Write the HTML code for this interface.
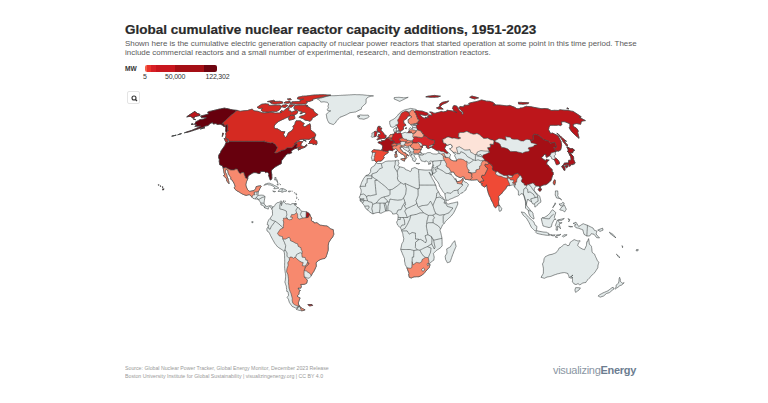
<!DOCTYPE html>
<html><head><meta charset="utf-8"><style>
html,body{margin:0;padding:0;background:#fff;width:768px;height:403px;overflow:hidden;position:relative;font-family:"Liberation Sans",sans-serif}
.t{position:absolute;white-space:nowrap}
#title{left:125px;top:22.2px;font-size:13.5px;font-weight:bold;color:#2a2a2a;-webkit-text-stroke:0.2px #2a2a2a}
#sub{left:125px;top:38.6px;font-size:7.95px;color:#5a5a5a;line-height:9.5px}
#mw{left:125px;top:65.3px;font-size:6.6px;font-weight:bold;color:#333}
.lg{top:72.6px;font-size:7px;color:#333;letter-spacing:-0.2px}
#bar{position:absolute;left:145px;top:65px;width:72px;height:6.5px;border-radius:2px;overflow:hidden;display:flex}
#bar div{height:100%}
#btn{position:absolute;left:127px;top:91px;width:13px;height:13px;border:1px solid #e4e4e4;border-radius:2px;box-sizing:border-box;background:#fff}
#src{left:125px;top:365.3px;font-size:5.9px;color:#999;line-height:7.6px;transform:scaleX(0.885);transform-origin:0 0}
#logo{left:553px;top:364.2px;font-size:11px;color:#8a96a3;letter-spacing:-0.3px}
#logo b{color:#6c7d90}
</style></head><body>
<div class="t" id="title">Global cumulative nuclear reactor capacity additions, 1951-2023</div>
<div class="t" id="sub">Shown here is the cumulative electric generation capacity of nuclear power reactors that started operation at some point in this time period. These<br>include commercial reactors and a small number of experimental, research, and demonstration reactors.</div>
<div class="t" id="mw">MW</div>
<div id="bar"><div style="width:2px;background:#f4604a"></div><div style="width:3.5px;background:#e8332a"></div><div style="width:5.5px;background:#d71f26"></div><div style="width:18.5px;background:#c8161e"></div><div style="width:29.5px;background:#a50f15"></div><div style="width:13px;background:#6e0510"></div></div>
<div class="t lg" style="left:143px">5</div>
<div class="t lg" style="left:165px">50,000</div>
<div class="t lg" style="left:205.5px">122,302</div>
<div id="btn"><svg width="11" height="11" viewBox="0 0 11 11" style="position:absolute;left:0.5px;top:1px"><circle cx="5" cy="5" r="2" fill="none" stroke="#333" stroke-width="1.1"/><line x1="6.5" y1="6.5" x2="8" y2="8" stroke="#333" stroke-width="1.2"/></svg></div>
<svg width="768" height="403" style="position:absolute;left:0;top:0"><path d="M251.9 222.7L251.8 221.6L253.2 221.8L252.8 222.7ZM163 190.2L162.6 188.9L163.3 188.9L164.1 188.9ZM162.5 187.4L162.2 186.8L163.1 187.1ZM160.3 186.3L160.2 185.8L160.9 186.3ZM276.5 188.6L275.2 188.7L273.8 188.7L274.7 187.4L273.8 186.7L273 186L271.7 185.5L270.4 185L269.4 184.9L268.5 184.8L267.5 184.3L266.5 184.6L265.5 184.8L264.7 185.1L263.9 185.4L265 184.2L266.4 183.7L267.8 183.3L268.7 183.2L269.5 183.2L270.5 183.6L271.5 184L272.5 184.3L273.5 184.9L274.5 185.5L275.7 186L276.9 186.6L277.9 187.4L278.9 188.1L277.7 188.3ZM158.6 185.3L158.3 184.8L159 184.8ZM237.1 110.4L237.9 110.6L238.7 110.9L239.4 111.1L240.2 111.3L241.5 111.1L242.8 110.9L244 110.8L245.1 110.7L246.3 110.6L247.5 110.5L249 110L250.6 109.6L252.2 109.1L252.6 109.5L253 109.9L253.5 110.3L253.9 110.8L254.8 110.9L255.6 111L256.4 111.1L257.2 111.2L258.1 111.3L258.8 111.6L259.6 111.9L260.4 112.1L261.1 112.4L261.9 112.7L262.9 112.8L263.9 112.9L264.8 113L265.9 112.8L267 112.7L268.1 112.6L269.2 112.4L270.3 112.3L271.1 112.4L271.9 112.5L272.8 112.6L273.6 112.7L274.5 112.9L275.4 113.1L276.3 113.1L277.3 113L278.2 113L279.2 113L280.5 112.7L281.8 112.4L280.9 112.2L280 112L281.5 110.6L282.1 110.8L282.6 111L283.2 111.3L284.8 109.9L286.4 108.6L288.4 107.4L288.8 107.8L289.1 108.3L288.9 109.4L288.6 110.5L289.4 110.7L290.1 110.9L290.8 111L291.1 111.7L291.3 112.4L292.9 111.7L294.5 111L296.1 110.2L296.7 110.6L297.3 110.9L297.9 111.3L297.6 112.3L297.2 113.4L295.7 114.3L294.1 115.2L293.1 115.1L292.2 114.9L291.2 114.8L290.2 115.5L291.3 115.6L292.3 115.6L293.3 115.6L294.4 115.7L294.6 116.6L294.8 117.5L295 118.4L294 118.9L293 119.4L291.7 119.7L290.4 120L289.1 120.3L288.8 119.3L288.5 118.4L289 117.2L289.6 116.1L288.8 116.7L287.2 117.4L285.6 118.1L284.2 118.8L282.8 119.4L281.5 120L280.2 120.7L278.8 121.3L277.4 122.4L275.9 123.5L275 124.8L274.1 126.1L274.3 127.3L274.6 128.5L275.5 128.6L276.4 128.7L277.4 128.8L278.2 129.3L279.1 129.8L280 130.4L280.9 131L281.7 131.6L282.8 131.6L283.8 131.7L284.9 131.7L284.2 133.1L283.5 134.5L283.9 135.3L284.2 136.1L284.8 136.7L285.5 137.3L287.1 135.8L287.7 134.2L288.4 132.7L290.1 131.7L291.8 130.7L292.7 129.4L293.6 128.1L293.3 127.2L292.9 126.4L293.9 125.3L294.9 124.3L295.1 123.2L295.4 122.1L296.3 120.7L297.3 120.8L298.4 120.8L299.5 120.8L300.6 120.9L301.2 121.4L301.9 121.9L302.6 122.4L303.5 122.9L304.3 123.4L303.6 124.6L302.8 125.8L303.5 126.1L304.2 126.5L304.9 126.8L306.3 125.9L307.6 125L308.8 124.4L310 123.7L310.3 124.9L310.6 126.1L310.5 127.3L310.6 128.4L310.6 129.6L311.2 130.2L311.8 130.8L312.5 131.4L313.4 132L314.4 132.7L315.1 133.7L315.7 134.7L315.5 136.2L314.2 137L313 137.7L311.7 138.2L310.3 138.8L308.9 139.4L307.7 139.3L306.5 139.3L305.2 139.2L304.1 139.3L303 139.3L301.9 139.4L300.8 139.4L299.3 140.2L297.7 141L295.9 142.6L294 144.2L295.7 143L297.2 142.2L298.8 141.5L299.8 141.5L300.8 141.5L301.9 141.6L302.9 141.6L302 142.6L301.2 143.7L301 144.7L300.8 145.8L301.7 146L302.6 146.3L303.5 146.6L304.8 146.6L305 146.5L305.2 147.2L304 147.6L302.7 148.1L301.5 148.5L299.9 149.3L298.4 150.1L298.1 148.6L299.4 147.9L300.7 147.2L299.6 147.3L298.5 147.4L297.2 148L295.9 148.4L294.6 148.8L293.5 149.4L292.4 149.9L291.1 151.5L291.8 152.8L290.6 153.2L289.5 153.7L288.6 153.7L287.6 153.8L286.7 154.4L285.8 154.9L285.3 156.2L283.8 157.5L283.1 158.7L282.3 159.8L281.4 160.8L281.4 162.2L281.3 163.6L279.8 164.4L278.6 165L277.4 165.7L276.4 166.3L275.5 166.8L274.1 167.8L272.9 169L271.6 170.1L271.3 171.6L271.5 173.1L271.8 174.5L271.8 176.2L271.9 177.8L271.7 178.9L270.8 180L270 179.8L269.8 178.9L269.5 178L269.1 176.8L268.6 175.7L269 174L268.7 173.5L268 172.8L267.3 172.1L266.4 172.3L265.5 172.6L264.9 172L264.3 171.4L263.2 171.4L262.2 171.4L261.3 171.6L260.5 171.7L260.3 172.6L260 173.5L259.1 173.5L258.2 173.5L257.3 173.1L256.3 172.7L255.1 172.6L253.9 172.6L252.3 173.2L251 174L249.6 174.9L248.4 175.7L247.8 177.1L247.8 178.7L247.2 180L246.6 181.4L246.3 182.5L246 183.7L245.8 184.8L246 185.8L246.3 186.8L246.9 188.3L247.6 189.7L248.6 190.6L249.7 191.4L250.9 191.2L252.1 190.9L253 190.8L254 190.7L254.8 189.7L255.6 188.7L255.9 187.7L256.2 186.6L257.5 186.3L258.8 186L259.8 185.9L260.8 185.8L261.2 186.6L260 188.1L259.6 189.2L259.3 190.2L258.5 190.9L258.4 192.5L258.2 193.5L258 194.5L257.7 195.3L259.1 195.3L260.2 195.2L261.3 195.1L262.3 195.2L263.4 195.3L264.2 195.9L265.1 196.6L264.8 197.8L264.6 199L264.4 200.4L264.2 201.8L264 203.1L264.7 204.8L265.8 205.7L266.8 206.6L268 206.2L269.1 205.8L270.1 205.8L271.1 205.7L271.9 206.3L272.7 206.9L274 206.7L274.8 205.4L275.6 204.1L276.6 203.1L277.5 202.6L278.4 202.5L279.2 202.3L280.2 201.5L281.2 200.8L281.9 201.7L280.8 202.8L281.2 203.8L281.3 204.7L281.4 205.6L281.7 204.7L282 203.8L281.4 203.1L282.8 202.8L283.6 201.2L284.3 202.3L285.1 203.1L285.9 203.9L286.8 203.9L287.8 203.8L289.2 204.2L290.6 204.6L292.1 203.6L293.1 203.6L294.1 203.6L295.1 203.6L294.2 204.8L295.6 205.4L296.3 206.3L297 207.2L298 207.6L299.1 208L299.6 209L300.2 210L301 210.6L301.9 211.3L303.2 211.4L304.5 211.5L305.4 211.6L306.3 211.8L307.5 212.4L308.6 213.1L309.7 214.1L310.1 215.1L310.4 216.2L311.1 217.1L311.8 218L311.5 219.1L311.3 220.3L311.8 221.1L312.9 221.6L314 222.1L314.3 223.1L315.6 222.9L316.9 222.7L318 223.6L319 224.4L320.1 225.2L321.4 225.3L322.7 225.5L324.1 225.8L325.6 225.9L327 226L328.5 227.1L329.6 228L330.7 228.9L331.9 229.3L333.2 229.6L333.4 231.2L333.6 232.7L333.8 234.3L333.2 235.6L332.7 237L331.8 238L330.9 239.1L329.9 240.7L328.8 242.3L328.5 243.8L328.2 245.3L328.2 246.6L328.2 247.9L328.2 249.1L328.1 250.4L327.7 251.7L327.3 253L326.9 254.3L326.5 255.6L326.1 256.9L324.8 258.5L323.9 258.6L323.1 258.7L322.2 258.9L321.3 259.2L320.1 259.7L318.8 260.3L317.9 261.1L316.9 262L316 262.8L316.1 263.9L316.2 265.1L316.3 266.2L315.6 267.6L315 269L314.3 270.4L313.6 271.8L312.9 272.7L312.3 273.6L311.6 274.9L311 276.2L310.1 277.2L309.2 278.2L308.3 278.2L307.5 278.1L306.5 277.7L305.6 277.3L304.3 277.2L305.3 278L306.3 278.8L307.3 280.4L307 281.8L306.7 283.2L305.5 283.8L304.3 284.3L303.1 284.4L301.9 284.4L300.6 284.5L301 285.4L301.3 286.3L301.1 287.2L300.9 288.1L299.9 288.1L298.9 288.1L298 288.1L298.6 289.1L299.2 290.2L300.4 290.5L299.7 291.1L299.1 291.8L299 293L298.9 294.2L298 295.1L297.1 296L298.2 297.1L299.1 297.5L300.1 297.9L299.6 299.1L299.2 300.2L298.8 301.4L298.3 302.8L298.5 303.9L298.7 305L299.8 306.2L299 306.4L298.2 306.6L297.4 306.7L297.4 308L296.4 308L295.5 308L294 307.2L293 306.8L292.1 306.4L291.2 305.1L290.3 303.8L289.4 302.5L288.9 300.9L288.4 299.3L287.8 298.4L287.1 297.4L287.8 296.4L288.6 295.3L288.3 293.7L288.1 292.1L287.7 291.5L287.1 291.9L286.8 291L286.6 290L286.8 289.7L286.6 289.4L286.4 287.7L286.3 286.1L285.7 284.7L285.3 283.3L284.8 281.9L285.1 281.2L285.3 280.2L285.4 279.1L285.5 277.8L285.6 276.4L285.7 275L285.4 273.4L285.1 271.8L284.9 270.1L284.7 268.5L284.6 266.9L284.6 265.5L284.6 264.1L284.7 262.8L284.7 261.2L284.7 259.7L284.6 258.3L284.6 256.9L284.5 255.5L284.5 254.1L284.3 252.7L284.1 251.3L283.2 250.7L282.4 250L281.2 249.2L280 248.5L278.8 247.7L277.7 246.9L276.7 245.8L275.8 244.6L274.9 243.5L274.1 242.1L273.4 240.8L272.6 239.5L271.9 238.1L271.2 236.8L270.5 235.5L270 234.4L269.5 233.3L268.9 232.2L268 231.6L267 230.9L266.9 229.8L266.8 228.8L267.5 227.7L268.2 226.7L268.7 225.2L268 224.9L267.2 224.7L267.4 223.7L267.5 222.7L268 221.5L268.5 220.3L269 219.5L270.3 218.2L271.2 216.8L272.2 215.4L272.5 214.7L272.5 213.3L272.4 211.8L272.4 210.3L271.8 209.3L271.4 208.4L271.1 207.5L269.7 206.6L268.5 207.7L268.2 209.2L267.5 208.8L266.7 208.5L265.7 208.2L264.7 207.9L264 206.7L263.3 205.6L262.1 205.2L260.9 204.8L260.8 203.1L259.9 201.6L258.9 200L258.5 199.4L257.5 199.3L256.5 199.1L255.4 199L254.2 198.7L253 198.4L252.1 197.4L251.3 196.4L250.5 195.4L249.2 194.6L247.7 195L246.2 195.4L244.9 195L243.5 194.5L242.6 194.1L241.6 193.6L240.7 193L239.8 192.4L238.9 191.8L237.8 191.3L236.8 190.7L235.9 190L235 189.2L234.2 187.8L235 186.8L235.1 186L234.5 184.6L234 183.2L233.1 181.7L232.3 180.2L231.6 179.8L230.8 179.3L230.8 178.4L230.8 177.5L230.1 176.5L229.4 175.5L228.8 174.4L228.2 173.2L228 171.8L227.8 170.4L226.9 169.9L225.9 169.3L225.4 170.6L225.4 171.5L225.5 172.4L226.1 173.5L226.7 174.5L226.9 175.8L227.2 177L228 178.6L228.2 179.6L228.4 180.6L228.8 181.6L228.9 182.6L229 183.7L228.3 182.9L227.4 181.7L226.6 180.6L226.6 179.6L226.6 178.6L225.9 178L225.1 177.5L224.3 176.5L223.5 175.5L224.8 174.9L224.4 173.8L224 172.7L223.8 171.5L223.6 170.3L223.4 169.1L223.1 168L223.1 167.7L222.6 166.7L222.2 165.7L221.3 165.4L220.5 165L219.7 164.7L219.5 163.6L219.4 162.4L219.2 161.3L219.3 160.3L219.3 159.3L218.9 158.4L218.6 157.4L218.7 156.2L218.8 155.1L219.7 153.8L220.5 152.5L221 150.9L222 149.6L222.9 148.3L223.8 147L224.7 145.8L225.2 144.6L225.6 143.4L226.1 142.2L227 142.5L227.9 142.7L229.2 141.3L228.9 140.8L228.5 139.9L228.2 139.1L227.3 138.8L226.3 138.4L225.4 138.1L225.7 137L226 135.8L225.8 134.8L225.7 133.8L225.9 133L226.2 132.4L225.9 131.7L225.6 131.1L225.7 130L225.8 128.8L225.7 127.7L225.6 126.5L224.7 126.5L223.8 126.5L223.3 126L222.7 125.5L222.2 125L221.6 124.8L220.9 124.5L220.3 124.3L219.3 124.3L218.3 124.4L217.3 124.4L216.6 124L215.9 123.5L214.5 123.8L213.1 124L212.9 123.2L212.7 122.5L211.4 123L210.2 123.5L209.1 124.5L208 125.5L206.7 125.8L205.3 126.1L203.2 127.3L201.8 127.7L200.5 128.1L199.1 128.5L197.6 129.1L196 129.6L194.4 130.1L192.9 130.6L191.4 131.1L190 131.5L188.7 131.9L187.3 132.2L185.8 132.5L184.4 132.8L186.1 132.2L187.9 131.6L189.6 131L191.4 130.5L193.2 129.7L195.1 128.9L196.9 128.1L198.9 127.2L200.8 126.2L200 126.2L199.2 126.1L198.1 126.2L197 126.2L195.9 126.3L194.8 126.4L195.8 125.5L196.9 124.6L196 124.5L195.2 124.4L194.4 124.3L195 123.5L195.6 122.6L195.6 121.9L198.5 120.4L200.1 119.6L201.3 119.4L202.4 119.3L203.6 119.1L206.5 117.7L205.5 117.6L204.5 117.5L203.6 117.6L202.6 117.6L201.7 117.7L201.4 117.4L201.2 117.1L201 116.6L200.8 116.1L202 115.8L203.2 115.4L204.5 115.1L205.9 114.7L207.3 114.3L208.7 114L208.4 113.5L208.1 113.1L207.9 112.6L207.6 112.2L209.4 111.4L210.6 111.2L211.8 110.9L213.1 110.6L214.3 110.3L216 109.9L217.6 109.5L219.2 109.1L220.5 108.9L221.8 108.6L223 108.4L224.3 108.1L225 108.2L225.8 108.4L226.5 108.5L227.3 108.6L228 108.7L228.7 108.9L229.4 109.1L230 109.3L230.7 109.5L231.5 109.6L232.3 109.8L233.1 109.9L233.9 110L234.7 110.1L235.5 110.2L236.3 110.3ZM225.6 141.5L225 140.4L224.5 139.4L224.1 138.4L224.8 138.6L225.6 138.8L226.5 139L227.4 139.2L227.6 140L227.9 140.8L227.6 142.4L226.9 142.1L226.2 141.8ZM176.2 135.2L174.9 135.5L173.7 135.8L172.7 136L171.7 136.2L173.1 135.8L174.6 135.5ZM223.6 133.4L222.9 135L222.3 136.6L222.4 135.4L222.5 134.3L222.6 133.1ZM179.8 134.1L181.5 133.6L179.6 134.2L177.7 134.8ZM203.6 127.5L204.3 127.6L205 127.8L203.5 128.2L202 128.6L200.4 129L202 128.2ZM191 124.3L192 124L193 123.7L193.3 124.4L192.5 124.4L191.8 124.3ZM193.9 119.4L193.6 119L193.3 118.7L194.1 119L194.8 119.3L195.5 119.6L194.7 119.5ZM192.2 117.7L191.7 117.2L191.3 116.7L190.9 116.2L189.5 116.4L188.2 116.6L186.8 116.8L188.8 115.4L190.8 114.1L192.8 112.8L194.9 111.4L195.3 111.9L195.7 112.3L196.2 112.7L196.7 113L197.2 113.4L197.8 113.6L198.4 113.8L199.1 114L199.7 114.2L199.8 114.9L199.9 115.5L198.7 115.7L197.6 115.9L196.4 116.2L195.3 116.4L193.8 117.7L193 117.7ZM267.9 112L267 111.9L266.1 111.9L265.2 111.8L264.3 111.8L263.4 111.7L262.7 111.4L262.1 111L261.4 110.6L261.4 109.9L261.5 109.3L262.6 108.1L261.7 108.2L260.8 108.3L260 108.4L259.1 108.4L258.6 108.2L258.1 107.9L257.6 107.6L257.1 107.3L258.6 106.3L260.2 105.2L261.8 104.2L262.9 104.1L264.1 104L265.2 103.8L266.1 103.9L266.9 104L267.8 104.1L268.7 104.2L268.8 104.9L268.9 105.7L270.2 105.4L271.2 105.4L272.1 105.4L273.1 105.4L274 105.3L275 105.3L275.9 105.3L276.8 105.3L277.8 105.3L278.6 105.2L279.3 105.2L280.1 105.1L280.5 105.7L280.9 106.3L281.3 106.8L280.7 107.9L280.1 108.9L279.4 109.9L277.8 110.8L276.2 111.6L275.3 111.5L274.5 111.4L273.6 111.4L272.8 111.3L271.5 111.5L270.3 111.7L269.1 111.8ZM283.3 107.2L282.6 107L281.9 106.8L281.2 106.6L282.1 105.4L283.4 105.1L284.7 104.9L285.9 104.6L286.5 105L287.2 105.3L287.8 105.7L286.4 106.6L285.1 107.5L284.2 107.4ZM294.5 104.9L293 106.1L291.4 107.2L290.4 107.2L289.5 107.1L288.6 107L289.1 105.9L289.7 104.8L290.7 104.8L291.7 104.8L292.6 104.8L293.6 104.9ZM308.8 107L309.4 107.4L309.9 107.8L310.5 108.3L311.1 108.7L311.8 109L312.5 109.3L313.2 109.5L313.5 110.3L313.8 111L314.3 111.7L314.9 112.3L315.4 113L316.2 113.4L317.1 113.8L317.5 114.2L317.9 114.7L316.7 115.4L315.6 116.2L314.4 116.9L313.2 117.5L312.1 118.1L312 119L311.8 119.8L309.9 121.3L309 121L308.1 120.6L307 120.4L306 120.3L304.9 120.1L304.2 119.6L303.6 119L302.7 118.6L301.9 118.3L301.1 118L300.4 117.7L299.7 117.5L299.1 117.2L299.9 116.4L301.1 116.1L302.2 115.7L303.4 115.4L304.5 115.1L305.9 113.7L305.3 113L304.7 112.3L303.7 112.4L302.7 112.6L301.7 112.7L301.6 111.3L300.7 111.2L299.7 111L298.8 110.9L298.3 110.4L297.9 109.9L297.1 109.8L296.2 109.7L295.4 109.6L294.6 109.5L294.2 108.7L293.9 107.9L294.4 106.7L294.9 105.5L296 105.4L297.1 105.3L298.2 105.2L299.3 105.1L300.2 105.2L301.2 105.2L302.2 105.2L303.1 105.2L304.1 105.3L305.4 104.9L306.2 105.1L307 105.4L307.8 105.7L306.9 105.9L305.9 106.2L306.3 106.3L307.1 106.5L307.9 106.8ZM305.8 103.8L304.8 103.9L303.8 103.9L302.8 103.9L301.8 104L300.8 104L299.8 104L298.7 104.1L297.7 104.1L296.9 104L296.1 104L295.2 103.9L294.4 103.8L293.6 103.8L292.7 103.7L292.6 103.5L291.6 103.8L290.9 103.6L290.2 103.3L292.2 102.4L291.9 101.8L292.9 101.8L293.8 101.7L294.7 101.7L295.7 101.6L296.6 101.6L297.6 101.5L298.5 101.5L299.5 101.4L300.3 101.5L299.9 101.4L300.3 100.2L301.5 99.8L302.7 99.5L303.9 99.1L303.5 98.8L303.1 99L302 99.1L301 99.3L299.9 99.4L299.3 99.2L298.6 99.1L298 98.9L297.4 98.8L297.6 98L297.9 97.3L299 97L300.2 96.8L301.3 96.5L302.4 96.2L303.2 96.2L303.9 96.2L304.7 96.1L305.4 96.1L306.2 96.1L306.8 95.9L307.8 95.8L308.8 95.7L309.8 95.6L310.8 95.4L311.8 95.3L312.8 95.2L313.8 95.1L314.8 95L315.7 95L316.6 94.9L317.5 94.9L318.4 94.9L319.3 94.8L320.2 94.8L321.1 94.8L322 94.8L322.9 94.7L323.8 94.7L324.5 94.8L325.3 94.8L326.1 94.9L326.8 94.9L327.6 95L328.4 95L329.1 95.1L329.9 95.1L330.7 95.2L329.6 95.4L328.6 95.6L327.5 95.8L326.5 96L325.4 96.3L324.4 96.6L323.4 96.8L322.3 97.1L321.3 97.3L320.3 97.5L319.3 97.7L318.3 97.9L317.3 98.1L316.1 98.4L314.9 98.7L313.7 99L312.5 99.3L312.7 99.7L313 100.2L311.8 100.6L310.6 101L309.4 101.4L308.6 101.5L307.8 101.5L306.9 101.6L306.1 101.6L306.5 102L307 102.3L307.4 102.6ZM273.5 100.3L274 100.6L274.6 100.9L275.1 101.2L273.7 101.6L274.7 101.5L275.7 101.5L276.7 101.4L277.7 101.4L278.7 101.4L279.7 101.3L280.3 101.4L281 101.6L281.7 101.7L282.4 101.8L282.6 102.4L282.9 103L281.9 103.2L280.8 103.5L279.7 103.6L278.6 103.7L277.5 103.8L276.3 104L275.2 104.1L274.3 104L273.5 103.9L272.6 103.8L271.8 103.7L271.3 103.3L270.8 103L270.3 102.6L271.8 102.1L273.2 101.7L272.3 101.9L271.3 102.2L270.6 102.1L269.8 101.9L269 101.8L268.2 101.7L267.5 101.6L268.7 101.3L269.9 101.1L271.1 100.8L272.3 100.6ZM285.7 101.8L286.8 101.7L287.8 101.6L288.9 101.5L290 101.4L290.2 102.1L290.4 102.7L289.1 103L287.8 103.3L287 103.3L286.2 103.2L285.4 103.1L284.6 103L283.9 103ZM291.3 99.6L290 99.8L288.8 100.1L288.3 99.7L287.9 99.4L287.4 99L288.4 98.9L289.4 98.7L290.4 98.5L290.7 98.9L291 99.3ZM298.6 306.6L299.7 306.6L301.1 307.6L302.5 308.6L303.8 309.2L305.1 309.8L304.5 310.1L303.9 310.4L302.8 310.6L301.6 310.8L300.3 310.5L299 310.3L297.6 309.8L296.1 309.2L297.1 308.7L298 308.1ZM307.9 304.5L308.9 304.5L310 304.5L311 304.5L312 304.5L312.6 305.5L311.5 305.6L310.5 305.8L309.4 306ZM295.1 204.6L295.1 203.6L295.1 203.5L296.4 203.5L296.4 204.6ZM295.4 201.3L295.8 201.2L295.7 201.5ZM285.5 201.3L285 201.3L284.9 200.8ZM283.6 200.8L283.5 200.5L283.9 200.8ZM298.6 199.9L298.5 199.4L298.9 199.7ZM296.5 198.5L296.7 198.1L296.8 198.7ZM296.8 197.6L296.5 196.9L297.1 197.2ZM296.5 195L295.8 194.5L296.7 194.1ZM295.8 193.5L295.8 193L296.1 193.3ZM294.8 192.8L294.5 193.2L294.4 192.5ZM274 192L272.7 191L273.7 191.2L274.6 191.4L275.6 191.5L274.8 191.8ZM288.5 191L289.6 191.1L290.7 191.2L289.9 191.8L289.2 191.8L288.4 191.7ZM292 191.4L291.7 191L292.3 191.2ZM280.5 191.5L279.3 191.5L278.2 191.5L278.2 191L279.5 189.8L280.8 188.6L281.8 188.6L282.9 188.6L284.1 189.1L285.3 189.6L286.1 190.1L286.9 190.7L286 191.4L285.2 191.4L284.4 191.4L283.3 191.8L282.2 192.3L281.3 191.9ZM278.2 185.1L277 184.7L277.8 183.5ZM280.2 184.5L279.6 183.8L280.6 184.7ZM276.7 179.4L277.1 180.6L277.5 181.6L277.9 182.7L277 181.9L276.8 180.7ZM274.9 177.3L276.2 177.8L275.8 179L275.4 180.2L274.6 179.9L274.8 178.6ZM306.7 144.5L306.9 145.8L306 146.1L305 146.5L304.9 146.1ZM317 143.5L316 145.1L315.2 143.8L314.1 144.2L313 144.6L312.5 143.5L311.5 143.5L310.5 143.5L309.5 143.5L308.5 143.5L310 142.1L309.2 141.9L310.5 140.5L311.8 139.1L313.3 138.1L314.8 137.2L314.6 138.5L314.4 139.9L315.5 140.3L316.6 140.8L316.9 141.8L317 142.6ZM305.3 140.8L304.2 140.4L303.1 140L304.1 140.4L305.2 140.8L306.2 141.1ZM300.7 112.7L301.5 113.1L302.2 113.5L301.1 113.6L300 113.7ZM327.7 110.6L327.3 109.3L328.5 107.9L328.2 107L327.9 106.2L328.3 105.1L328.7 104L328.2 103.4L327.8 102.9L327.3 102.3L326.5 102.2L325.6 102.1L324.7 101.9L323.9 101.8L322.9 101.9L321.8 102L320.8 102.1L320.4 101.4L319.9 100.8L319.5 100.2L318.9 99.9L318.4 99.6L317.9 99.3L317.3 99L318.4 98.7L319.5 98.4L320.5 98.1L321.6 97.9L322.8 97.5L324.1 97.1L325.3 96.8L326.5 96.4L327.6 96.2L328.7 95.9L329.8 95.7L330.6 95.7L331.5 95.7L332.4 95.7L333.3 95.7L334.1 95.7L335 95.7L335.9 95.6L336.8 95.6L337.8 95.5L338.7 95.5L339.6 95.4L340.5 95.4L341.4 95.3L342.3 95.3L343.2 95.2L344.1 95.2L345 95.1L345.9 95.1L346.8 95L347.7 95L348.6 94.9L349.5 94.9L350.4 94.8L351.3 94.8L352.2 94.7L353.1 94.7L353.9 94.6L354.8 94.6L355.6 94.6L356.5 94.7L357.3 94.7L358.2 94.7L359 94.7L359.9 94.7L360.8 94.8L361.6 94.8L362.5 94.8L363.3 94.9L364.1 95L364.9 95.1L365.8 95.2L366.6 95.3L367.5 95.4L368.3 95.4L369.2 95.5L370 95.6L370.9 95.7L371.7 95.7L372.6 95.8L373.5 95.9L372.6 96L371.7 96.1L370.8 96.2L369.8 96.6L368.8 96.9L367.9 97.3L367 98.1L366.1 99L366.1 99.9L366.1 100.8L366.1 102.1L366 103.3L364.8 104.3L363.7 105.3L362.7 106.3L361.7 107.2L361.5 108.2L361.3 109.3L360.2 109.7L359 110.2L357.9 110.8L356.7 111.4L355.5 112L354.4 112.1L353.3 112.3L352.2 112.4L351.1 112.6L350 112.7L348.8 113.4L347.5 114.1L346.2 114.8L345.2 115.2L344.1 115.7L343 116.1L342 116.5L341 116.9L340 117.2L339.1 118.4L337.9 119.5L336.7 120.6L336.1 121.7L335.5 122.8L334.4 123.7L333.3 124.6L332.4 124.3L331.6 124L330.8 123.7L329.9 123.4L329.1 123.1L328.4 121.8L327.7 120.6L327.3 119.3L326.8 118.1L326.7 117.1L326.6 116.1L326.4 115.2L326.3 114.2L327.4 113.1L328.6 112L329.6 111.4L330.7 110.9L329.7 110.8L328.7 110.7ZM447 253L446.9 251.6L446.8 250.2L446.7 248.9L447.9 248.2L449.2 247.5L450.4 246.8L451.1 245.6L451.8 244.5L452.4 243.3L453.6 242L454.7 240.7L455.1 242.1L455.4 243.6L455.8 245L456.1 246.4L455.5 247.7L455 248.9L454.4 250.3L453.8 251.7L453.3 253.2L452.7 254.6L452.2 256L451.7 257.5L451.2 258.9L450.7 260.4L450.2 261.8L448.8 262.3L447.4 262.8L446.5 261.1L445.6 259.5L445.4 257.9L445.2 256.2L446.1 254.6ZM552 235.2L553.1 235L554.1 234.9L555.2 234.8L554.4 235.8L553.3 235.8L552.3 235.8ZM551.4 235.6L550.9 234.7L551.9 234.7ZM535.5 232.2L536.9 230.7L537.9 231L539 231.2L540 231.4L541.1 231.6L542.1 231.8L543.1 232L544.2 232.1L545.3 232.2L546.3 232.2L547.6 232.9L549 233.5L548.8 234.3L549.6 234.6L550.5 234.8L549.7 235.5L548.8 234.4L548.5 235.5L547.3 235.3L546.1 235.2L544.9 235L543.7 234.8L542.3 234.6L540.9 234.3L539.4 234L538.3 233.7L537.2 233.4L536.3 232.8ZM531.5 227.6L530.7 226L529.9 224.4L529.1 222.7L528.3 221.3L527.4 219.8L526.6 218.3L525.5 217.3L524.3 216.3L523.2 215.2L522.3 213.6L521.3 211.9L522.4 212.2L523.5 212.4L524.5 212.6L525.9 214.2L527.3 215.8L528.7 217.3L530 218.5L531.3 219.6L532.6 220.8L533.8 221.9L534.4 223.4L534.9 224.9L535.9 225.6L536.9 226.3L536.8 227.7L536.6 229.2L536.5 230.6L535.5 230.6L534.6 230.6L533.6 229.6L532.6 228.6ZM438.8 192.5L439.6 194.1L440.3 195.6L441.1 195.8L442.3 197L443.4 198.2L444.3 199L445.2 199.9L446.1 200.8L445.9 202.1L446.5 203L447.1 203.9L447.8 204L448.6 204.1L450.1 203.6L451.2 203.3L452.4 203.1L453.6 202.8L454.7 202.6L455.7 202.3L456.7 202.1L457.6 201.8L457.7 203L457.8 204.1L457.3 205.2L456.8 206.4L456 208L455.3 209.7L454.6 211L453.9 212.4L453.2 213.6L452.1 214.9L451.1 216.2L450.2 217L449.4 217.7L448.4 218.6L447.5 219.5L446.4 220.6L445.3 221.7L444.7 222.7L444 223.7L443.2 224.5L442.4 225.2L441.8 226.5L441.3 227.7L440.6 228.9L439.9 230.1L440.3 231.2L440.6 232.2L440.9 233.2L441.1 234.2L441.4 235.5L441.7 236.9L442 238.3L442 239.9L442.1 241.5L442.1 242.9L442.1 244.3L442.2 245.6L441.1 247.2L440 248.1L438.9 248.9L437.7 249.6L436.5 250.4L435.5 251.4L434.5 252.4L433.4 253.5L433.6 254.4L433.8 255.4L434.2 257.1L434 258.6L433.8 260.2L432.4 261.1L431.1 262L429.7 263.5L430 264.9L429.6 266.3L429.1 267.7L428 268.8L427 269.9L425.8 271.2L424.7 272.6L423.5 273.8L422.3 275L421.2 275.6L420.1 276.1L419 276.7L417.7 276.7L416.5 276.7L415.3 276.8L414 276.8L412.6 277.4L411.2 278L410.2 277.6L409.2 277.2L409.1 276.5L408.9 275.6L408.7 274.7L409.1 273.4L408.6 272.2L408.1 270.9L407.5 269.4L406.9 267.8L406.1 266.2L405.2 264.6L405 263.4L404.8 262.3L404.5 261.1L404.5 259.9L404.5 258.6L404 257.5L403.6 256.4L403.1 255.3L402.4 253.7L401.8 252.1L401.2 250.7L400.7 249.3L400.9 248.2L401.2 247.1L401.4 245.9L401.6 244.8L401.9 243.7L402.5 242.7L403.2 241.7L403.5 240.2L403.8 238.7L403.4 237.1L403 235.5L402.9 234.4L402.7 233.4L402.2 232.1L401.7 230.9L401.4 229.9L401.1 228.9L399.9 227.3L398.8 226.2L397.7 225.2L397.1 223.6L396.6 222.1L397.6 220.4L397.8 219.3L398 218.2L398.1 217L398.1 215.8L398 214.6L397.1 214.1L396.3 213.6L395.4 213.7L394.5 213.9L393.6 214L392.7 214.1L392.4 213.1L391.5 212L390.6 211L389.8 210.8L388.9 210.6L387.8 210.8L386.8 210.9L385.7 211.1L384.7 211.6L383.7 212L382.3 212.7L381 213.3L379.6 212.9L378.2 212.4L377.2 212.6L376.1 212.8L375 213.1L374 213.5L372.9 213.9L372 213.4L371 212.9L369.7 211.9L368.4 210.8L367.6 210L366.8 209.4L366 208.8L365 207.2L364.3 205.6L363.4 204.4L362.5 203.3L361.6 201.7L360.8 201.4L360.1 201L360.1 200.1L360.2 199.1L360 198.4L359 197.1L359.6 196.8L360 195.9L360.5 195L360.7 193.8L361 192.7L361.2 191.5L361.1 190.4L360.9 189.2L360.4 188.2L359.9 187.1L360.4 185.7L361 184.3L361.3 183.4L361.6 182.4L362.3 181.1L363 179.8L363.7 178.4L364.8 177L366 175.5L367 175.2L368 174.9L369.4 173.7L370.1 172.6L370.7 171.4L370.5 169.8L370.9 168.9L371.2 168L372.4 166.8L373.6 166.2L374.7 165.5L375.4 163.9L376.1 162.6L377 163.1L377.9 163.6L378.9 163.5L380 163.4L381.3 163.7L382.2 163.3L383.2 162.8L384.3 162.1L385.4 161.5L386.3 161.3L387.2 161.2L388.1 161L389.2 161L390.3 161L391.4 161L392.5 160.9L393.5 160.9L394.5 160.8L395.5 160.6L396.4 160.4L397.3 160.2L398.1 160.3L398.8 160.5L398.2 161.5L398.6 162.4L399 163.4L398.4 164.6L397.8 165.7L398.8 166.3L399.8 166.8L400.9 167.1L402.1 167.3L403.4 167.7L404.8 168.2L405.4 169.5L406.8 170L408.2 170.4L409.2 171L410.3 171.6L411.2 170.9L411.4 169.8L411.7 168.6L412.7 168.3L413.8 167.9L414.9 167.5L416 168.1L417 168.6L417.9 169.1L418.7 169.5L419.8 169.6L420.9 169.7L421.9 169.8L423 169.9L424.2 170L425.3 170.1L426.4 170.1L427.5 170.1L428.6 170L429.9 170L431.2 170L431.8 168.6L432 167.5L432.3 166.6L432.5 165.7L432.7 164.8L432.9 163.9L432.6 163.1L432.7 162.2L432.8 161.3L432 161.3L430.6 161L429.4 161.9L428.5 162.3L427.5 161.7L426.6 161.1L425.5 160.9L425.2 161.9L424.2 161.6L423.3 161.3L422.1 161.1L421 160.6L420.7 159.2L419.8 158.4L419.8 156.9L418.9 156.6L418.9 155.8L419.4 155.1L420.5 155.1L421.5 155.1L422.5 155.1L423.6 154.5L422.5 154L423.4 153.9L424.3 153.8L425.6 153.8L426.6 153.2L427.5 152.7L428.4 152.6L429.3 152.6L430.2 152.5L431.1 153.1L432 153.7L432.8 153.8L433.6 154L434.6 154L435.6 154.1L436.5 154.1L437.7 153.7L438.9 153.2L438.8 152L437.7 150.9L436.7 150.4L435.8 149.9L434.8 149.3L433.7 148.6L433 148.2L432.1 147.8L431.3 147.4L432.2 146.1L433.4 145.3L434.1 144.3L432.8 144.5L432.1 144.7L431.4 145L430.3 145.3L429.3 145.6L428.8 146.4L429.6 147.2L430.3 147.1L431.1 147L429.9 147.7L429.2 148.2L428.4 148.6L427.4 148.3L427.2 147.4L425.9 147L426.6 146.5L427.2 145.9L426 145.6L424.8 145.3L424.1 145.3L423.4 145.3L422.5 146.4L422.4 147.4L421.5 148.3L421.2 149L421.1 150.1L420.5 150.6L420.1 151.7L420.9 152.5L422.2 153.7L421.1 154.1L419.8 154.6L418.7 154.8L418.3 154.4L417.3 154.3L416.3 154.3L415.4 154.6L414.4 154.8L414 155.4L414.6 156.9L415.2 157.4L416.2 158.7L415.9 159.2L416.3 159.6L415.3 160.2L415.1 161.6L414.3 161.5L413.3 161L412.4 159.3L413.1 158.6L412.1 158.2L411.7 157.2L410.9 156.4L409.9 155.1L409.7 153.7L409.6 152.7L408.6 151.9L407.7 151.5L407 150.9L406.2 150.4L405.5 150.1L404.6 149.6L403.8 149.1L403.3 148L402.6 147.2L402 147.8L401.6 147.5L401.7 146.6L400.8 146.8L399.9 147L400.2 147.8L400.4 149.2L401.6 149.9L402.1 150.9L402.6 151.8L403.9 152.5L404.6 152.6L405.3 152.7L405 153.3L406.4 154L407.1 154.3L407.8 154.7L408.6 155.6L408.4 156.1L407.6 155.5L406.8 154.9L406.1 155.8L406.9 157.4L406.1 158.4L405.5 159L405 158.8L405.1 157.5L404.9 156.7L404.6 155.8L403.8 155.3L402.9 154.5L402 154.1L401.2 153.8L400.1 152.9L398.7 151.9L397.7 151L397.4 150L396.7 149.1L395.6 148.6L394.4 149.5L393.5 149.8L392.6 150.7L391.8 150.6L391 150.4L390.1 150.3L389.2 150.1L388 151.4L388.2 152.7L386.9 153.5L386.1 154.1L385.2 154.6L384.4 155.6L383.5 156.7L384.3 157.9L383.3 158.7L382.7 159.7L381.8 160.4L381 161.1L380 161.1L379 161.1L378.1 161.1L377.2 161.7L376.4 162.3L375.5 161.5L374.6 160.3L373.2 160.6L371.9 160.6L372 159L371.3 157.9L371.7 156.8L372 155.8L372.3 154.8L372.5 153.9L372.3 152.4L371.8 151.1L373 150.3L373.7 149.6L374.7 149.7L375.6 149.9L376.6 150L377.8 150.1L379 150.2L380.2 150.4L381.1 150.3L382 150.1L382.2 149.2L382.4 148.3L382.6 146.7L382.5 145.8L381.8 145.1L381.2 144.3L380.4 143.8L379.5 143.4L378.4 143L378 142.2L378.8 141.9L379.6 141.6L380.5 141.7L381.5 141.8L382 141.8L381.6 140.2L382.5 140.7L383.3 140.6L384.1 140.5L385.4 139.9L386 139.1L386.3 138.2L387.2 138L388.2 137.5L389.2 136.6L389.7 135.8L389.8 135.1L390.7 134.5L391.6 134.5L392.4 134.4L393.1 134.1L394.1 134.1L394.6 133.6L394.8 132.8L394.4 131.9L393.7 131L393.7 130L393.7 129.1L394.2 128.7L394.9 128.3L395.7 127.9L396.5 127.7L396.3 129.1L397 129.7L396.3 130L396 131.1L396.8 131.1L396.7 131.9L395.9 131.7L395.9 131.5L395.7 131.9L396.4 132.8L397.2 133.4L398 133.3L398.7 133.1L399.5 132.9L400.3 132.7L401.4 133.6L402.2 133.4L402.9 133.1L404 132.7L405.1 132.2L405.9 132.5L406.6 132.8L407.7 132.8L408.1 132L408.7 131.4L409.3 130.8L409 129.6L409.5 128.2L410.6 127.6L411.8 128.8L412.6 128.8L412.6 127.8L412.6 126.8L411.3 125.5L412 125.3L412.7 125.1L413.7 125L414.7 124.9L415.5 125L416.4 125L417.5 124.4L418.2 124.4L418.9 124.4L418.2 124.2L417.4 124L417 123.2L416 123.4L415 123.5L413.9 123.8L412.8 124.1L411.7 124.3L410.6 124.6L409.5 123.6L408.4 122.8L408.3 121.7L408.2 120.6L408.2 119.7L409.1 119L410 118.4L410.5 117.8L411 117.2L411.9 116.9L411.1 116.4L410.3 115.8L409.2 115.9L408.1 116.1L407.3 117.2L406.5 118.7L405.6 119.3L404.7 119.8L404.1 120.3L403.5 120.7L403.7 121.8L403.9 122.8L403.7 123.4L404.5 123.7L405.3 124L405.9 125.3L405.2 125.7L404.4 126.1L403.4 126.4L403.4 127.4L403.5 128.4L403.4 129.4L402.6 130L402 130.2L401.3 130.4L401.1 131.3L400.3 131.3L399.5 131.3L399.5 131L399.2 130.3L398.9 129.6L398.4 128.7L398 127.8L397.5 126.7L396.9 125.6L396.3 124.9L396.3 124.4L395.9 125.8L395.1 126.2L394.4 126.5L393.4 127.2L392.3 127.3L391.4 126.9L390.5 126.5L390.5 125.9L390.2 125.1L389.9 124.3L389.7 123.7L389.7 122.9L389.7 122.1L389.8 121L390.9 120.6L391.7 120.1L392.6 119.7L393.7 119.1L394.5 118.5L395.6 117.7L396.1 117.1L396.8 116.3L397.6 115.5L398.5 114.1L399.4 113.7L399.9 112.7L400.9 111.9L401.6 111.4L402.3 111L403 110.7L403.7 110.3L404.2 110.1L404.7 109.9L405.5 109.7L406.2 109.5L406.9 109.3L407.7 109.2L408.4 109L409.1 108.8L409.7 108.6L410.4 108.4L411.3 108.5L412.2 108.6L413 108.8L413.8 109L414.6 109.1L415.4 109.3L416.1 109.5L416 110.2L416.8 110.4L417.7 110.6L418.5 110.8L419.4 110.9L420.4 111L421.3 111.1L422.3 111.2L423.3 111.5L424.3 111.9L425.3 112.3L426.4 112.6L427.6 113L428.4 114.4L427.8 114.7L427.3 115.1L426.2 115.2L425.2 115.4L424 115.2L422.9 115L421.8 114.8L420.9 114.7L420.1 114.7L419.4 114.3L418.7 113.9L419.5 114.7L420.4 115.5L421.2 116.3L422 117L422.9 117.6L423.8 118.1L425 118.2L426.1 118.4L425.2 117.2L426.3 117.4L427.5 117.5L428.6 117.6L427.6 116.2L428.5 115.6L429.4 114.9L430.2 115.1L431.1 115.2L432 115.5L431.8 114.1L430.7 113L429.7 111.9L430.7 112L431.7 112.2L432.7 112.4L433 113.1L434.1 113.2L435.2 113.3L436.1 113L437.1 112.7L438 112.5L439 112.2L439.9 112L440.6 111.7L441.3 111.4L442.2 111.7L443.1 112L444.1 111.8L445 111.6L446 111.4L447 111.3L446.9 110.2L447.8 110.3L448.8 110.5L449.7 110.6L450.9 110.8L452 110.9L453.3 111.3L454.6 111.7L455.9 112.1L457 112.7L455.9 112L454.7 111.3L453.6 110.6L453.7 109.9L452.5 108.6L452.8 107.7L453.1 106.8L453.4 105.9L454.1 105.7L454.7 105.5L455.8 105.9L456.9 106.2L457.6 107.4L458.3 108.6L458.7 109.6L459.1 110.6L460.4 111.4L461.8 112.3L461.9 113.4L462.1 114.5L462.7 114.2L463.3 113.8L463.1 112.9L463 112L461.2 110.6L460 109.3L458.9 107.9L459.4 107.2L459.9 106.6L461 106.7L462.1 106.8L463.1 106.8L464.1 106.7L464.1 105.9L464.1 105.1L464.9 105.2L465.6 105.2L466.4 105.3L467.2 105.2L467.9 105.1L468.7 105L469.5 104.9L469.1 104.2L468.7 103.5L469.4 103.2L470.1 103L470.8 102.7L471.6 102.5L472.4 102.4L473.2 102.2L474 102.1L474.8 101.9L475.6 101.8L476.3 101.6L477.1 101.4L477.8 101.2L478.5 101L479.2 100.8L479.7 100.6L480.2 100.4L480.7 100.2L481.2 100L482.1 100.1L483 100.3L483.9 100.5L485.1 100.8L486.3 101.2L487.3 101.2L488.3 101.3L489.3 101.3L490.5 101.6L491.7 102L493 102.3L494.2 103.5L495.4 104.6L494.6 104.8L493.7 104.9L492.9 105L493.9 105L494.9 105L495.9 105L496.8 105L497.8 105L498.8 105.1L499.7 105.1L500.7 105.2L501.6 105.3L502.7 105.4L503.7 105.5L504.8 105.7L505.8 105.8L506.9 105.9L507.6 105.8L508.3 105.7L509 105.5L509.7 105.4L511.3 106L512.8 106.6L514.4 107.2L516.7 108.6L517.8 108.7L518.9 108.7L519.6 108.4L520.2 108L521.1 108L522 107.9L522.9 107.8L523.4 107.5L523.9 107.2L524.3 107L525.1 106.8L525.8 106.5L526.4 106.3L527.6 106.5L528.8 106.6L530 106.7L531.2 106.8L532.6 107.1L534 107.4L535.4 107.6L536.8 107.9L538.2 108.2L539.6 108.4L541 108.7L542 108.7L543 108.7L543.9 108.6L544.9 108.6L546 108.7L547 108.8L548.1 108.9L549.7 109.7L551.3 110.5L552.1 110.5L553 110.4L553.9 110.4L554.7 110.3L555.8 110.4L556.9 110.4L558.1 110.5L558.8 110.3L559.4 110L560.1 109.8L561.4 109.9L562.6 110.1L563.9 110.2L565 110.3L566.1 110.3L567.2 110.3L568.7 110.6L570.2 110.9L571.6 111.2L573.1 111.4L575.2 112.8L577.2 114.1L579.2 115.4L581.2 116.8L580.9 117.2L580.6 117.5L579.3 117.4L581.3 118.4L583.4 119.5L585.4 120.6L584.6 120.7L583.8 120.8L583 120.9L582.4 121.1L581.8 121.4L581.1 121.6L581.1 122.2L581 122.8L580.8 123.5L580.6 124.3L579.3 124L578 123.8L576.8 123.5L575.8 123.7L574.8 123.8L574.3 124.1L573.8 124.4L572.8 124.6L573.3 125.7L573.7 126.8L576.1 127.9L577 129L577.9 130L578.2 131.4L577.9 132L577.7 132.7L578 133.8L578.3 135L578.5 135.9L578.8 136.9L579 138.3L577.5 137.1L575.9 135.8L574.5 134.4L573 133L571.6 131.6L570.7 130.2L569.8 128.8L569.3 127.6L569.6 127.1L569.9 126.5L569.9 125.6L569.9 124.6L569.8 123.7L567.8 122.9L565.8 122.1L564.1 121.6L563.1 121.7L562.1 121.8L561.1 121.9L561.5 123.2L561.9 124.6L561.3 125.1L560.7 125.6L559.6 125.3L558.6 125L557.8 125.1L557.1 125.2L556.3 125.3L555.3 125.3L554.2 125.3L553.2 125.2L552.1 125.2L551.1 125.2L550.1 125.3L549.7 125.9L549.4 126.6L549 127.3L548.9 128.1L548.7 128.9L548.5 129.7L549.2 130.9L549.9 132.2L550.5 133.4L551.6 133.3L552.7 133.1L554.4 134L556.2 134.8L558.3 136.2L558.9 137.4L559.5 138.6L560 139.7L560.5 140.5L561 141.4L561.2 142.7L561.4 144L561.6 145.3L561.4 146.5L561.2 147.7L560.9 148.9L560.5 150.1L559.7 150.5L559 150.8L558.3 151.2L557.4 151L556.6 150.7L556.2 151.4L555.8 152L555 152.8L555.7 154.5L555 155.1L554.3 155.8L554.3 157.1L556.4 158.5L558.2 160.2L558.8 161.2L559.4 162.3L559.5 163.7L558.7 164.1L557.8 164.6L557.1 164.6L556.4 164.7L555.9 163.5L555.4 162.3L555 161.1L554.5 159.9L553.1 159.3L551.9 159L551.5 157.8L551.1 156.6L549.4 155.9L548.7 156.2L548 156.4L547.3 157L546.7 157.5L545.9 156.2L546 154.6L545.1 154.5L544.3 154.5L543.8 155.2L543.2 155.9L542.7 156.5L542.3 157.1L541.4 157.4L542.4 158.7L543.9 159.5L545.2 160.5L545.8 159.9L546.4 159.3L547.4 159.8L548.4 159.9L549.3 160L548.7 160.5L548.1 161L547.5 161.6L547 162.2L546.8 163.3L546.7 164.4L548.2 165.2L549.2 166.5L550.1 167.8L552 169.3L552.4 170.4L551.4 171.1L553.1 172.2L553.2 173.5L553.2 174.7L552.5 175.5L552 177.1L551.6 178.6L551.2 179.8L550.7 180.9L550.1 181.1L549.3 182L548.5 182.9L547.7 183.5L547 184L546.1 184.4L545.3 184.8L544.3 184.8L543.3 185.1L542.3 185.5L541.3 186L540.3 186.5L540.2 187.9L539.7 186.9L539.1 186L538.3 186L537.5 186L536.7 186L535.9 186.5L535.1 187.1L534.3 188.7L534.3 189.6L534.2 190.5L534.9 191.5L535.6 192.5L536.5 193.3L537.4 194.1L538.4 194.9L539.6 196.3L540 197.4L540.3 198.6L540.6 199.8L540.9 201L540.7 202.3L539.9 202.8L539.1 203.3L537.8 204.2L537.2 205.4L536.5 206.1L535.7 206.7L534.8 207L534.8 206L534.9 204.9L534.1 204.1L532.6 203.8L531.6 202.1L530.7 201.2L529.7 200.8L528.7 200.3L527.9 199L527.2 200.7L526.8 202.3L526.5 203.9L526.6 205L526.8 206.1L528.3 207.4L529.1 208.6L529.9 209.8L531.3 211L532.2 212.1L533 213.3L533.1 214.9L533.5 216.2L533.9 217.5L534 218.9L533.1 218.8L532.3 218.2L531.5 217.5L530.1 216.2L529.5 215L528.9 213.7L528.6 212.3L528.4 211.4L528.3 210.5L527.4 209.7L526.5 208.8L525.5 208.2L525.5 207L525.5 205.9L525.5 204.8L525.5 203.1L525.4 201.5L525.1 200.3L524.8 199.2L524.5 198.1L524.1 196.8L523.6 195.4L523.2 194.1L522.1 193.9L521.1 193.6L520.4 194.5L519.6 195.3L518.4 195L518.4 193.6L518.4 192.2L518.3 190.9L516.7 189.2L515.7 188.2L514.9 187.2L514.1 186.1L513.6 184.6L512.7 184.9L511.9 185.1L510.8 185.4L509.8 185.6L508.4 185.6L507 186L506.4 187.4L505.7 188.7L504.9 189.6L504.1 190.4L503.3 191.3L502.6 192.2L502 193.1L501.3 194L500.5 194.6L499.6 195.3L498.6 196.3L498.7 197.4L498.9 198.5L499 199.7L498.7 200.7L498.5 201.7L498.6 203L498.7 204.3L497.6 205.9L496.5 206.7L495.6 207.9L494.2 206.6L493.9 205.7L493.6 204.8L493.2 203.8L492.8 202.7L492 201.4L491.2 200L490.8 198.7L490.3 197.4L489.4 195.8L488.9 194.5L488.4 193.3L488 191.7L487.5 190.1L487.3 188.9L487.1 187.8L486.9 186.6L486.7 185.7L486.5 184.8L485.9 186.3L484.5 187.1L483.5 186.5L482.4 185.8L481.4 184.7L482.1 184.2L482.7 183.7L481.3 183.8L480.5 182.5L479 182L478.1 180.6L477.3 179.6L476 179.8L474.7 179.9L473.6 180L472.6 180L471.5 180.1L470.3 179.9L469.1 179.8L467.7 179.6L466.4 179.4L465.1 179.3L464.6 178.1L464.1 177L462.7 176.7L461.5 177.2L460.3 177.6L458.8 177.1L457.3 176.3L455.8 175.5L455.2 174.6L454.6 173.8L454.1 172.9L453.5 171.9L452.4 172L451.2 172.1L450.6 173.1L451.2 174.2L451.8 175.3L453.2 176.8L454.1 178L454.7 179.1L455.4 180.2L455.5 179.3L455.7 178.4L456.1 179.3L456.5 180.2L456.4 181.4L457.9 181.6L459.2 181.3L460.5 181.1L461.6 179.8L462.5 178.9L462.9 178L463.1 179.3L463.3 180.6L464.1 181.3L465 182L465.7 182.3L466.5 182.5L467.5 183.4L468.4 184.3L468 185.6L467.5 186.8L466.5 187.8L466.2 188.9L465.9 190.1L465.2 190.5L464.5 190.9L463.7 191.7L463 192.5L462 192.9L460.9 193.3L459.7 194.5L458.5 195.6L457.5 196.1L456.4 196.5L455.3 197L454.2 197.4L453.5 197.8L452.7 198.2L451.6 198.6L450.5 199L449.5 199.4L448.5 200.2L447.3 200.3L446.2 200.3L445.9 199.3L445.5 198.2L445.4 196.9L445.1 195.8L444.9 194.6L444.6 193.5L443.8 192.6L443 191.7L442.3 190.5L441.5 189.2L440.5 187.6L439.4 186L439.1 184.3L438.3 183L437.6 181.7L436.2 180.2L435.1 178.6L434.4 177.4L433.6 176.2L432.5 175.2L432.5 174L432.6 172.9L432.2 174.1L431.8 175.3L430.6 174.5L429.9 173.3L429.1 172.2L429.8 173.6L430.5 175L431.2 176.5L431.8 177.5L432.3 178.6L433 179.8L433.6 180.9L434.3 182L434.9 183.4L435.4 184.7L436 186L436.4 187.5L436.8 189.1L437.5 190.2L438.1 191.4ZM447 151.7L448.6 152.8L449.7 153.9L450.9 154.9L449.9 155.8L449.8 157L449.7 158.2L450.6 159.8L451.4 160.2L452.5 160.6L453.6 161L454.7 161L455.8 161L456.9 161L456.6 160.2L456.1 158.8L455.5 157.4L454.5 155.8L455.5 154.1L454.6 153.7L453.7 153.3L453 151.7L452.2 151.1L451.3 150.6L450.5 149.7L449.6 148.8L450.6 148.5L451.5 147.8L452.4 147.2L452.2 146.2L451.9 145.3L451.1 144.8L450.3 144.3L449.2 144.6L448.1 145L447.1 145.3L446.3 145.7L445.6 146.1L445.1 147.3L444.6 148.5L445.2 149.3L446.2 150.9ZM554.3 217.3L555 218.4L555.8 219.5L555 219.5L554.2 219.5L553.5 220.8L552.8 222.2L552.1 223.6L551.7 225.2L551.3 226.8L550.2 227.2L549.1 227.6L547.9 227.3L546.7 227L545.5 226.7L544.3 226.3L543.1 226L542.7 224.4L542.2 222.7L541.9 221.4L541.6 220L541.3 218.6L542.2 217.8L543.2 217.7L544.2 217.5L545.6 216.7L547 215.9L548.4 214.6L549.8 213.3L550.5 212.3L551.1 211.3L552.5 209.7L553.6 210.6L554.7 211.6L555.8 212.6L555.3 214.2L554.8 215.8ZM499.4 205.1L500.2 206.3L501.1 207.6L501.9 208.8L501.4 209.9L501 211L500.2 211.1L499.4 211.3L498.9 209.7L498.9 208.4L498.9 207.2L498.9 206.1L498.8 205.1ZM553.8 206L553.5 206.8L553.1 207.7L552.6 207.4ZM555.2 202.8L555.6 203.9L554.7 205L553.8 206L554.5 204.4ZM540.4 188.3L541.5 188.9L541 190.5L539.7 191.4L538.2 189.7L538.8 188.4L539.6 188.3ZM415.9 163.4L417.2 163.4L418.5 163.4L419.7 163.4L418.7 163.9L417.7 163.7L416.6 163.6ZM430.3 164.1L429.1 164.1L428 164.2L428.7 163.6L429.8 163.2L430.9 162.8ZM400.7 159.2L401.4 158.9L402.1 158.7L403.1 158.6L404 158.6L405 158.5L404.7 159.9L404.4 161.2L403.2 160.5L401.9 159.9ZM395.2 157.4L395 155.8L394.9 154.1L395.8 154L396.7 153.8L396.9 155.4L397.1 156.9L396.2 157.1ZM395.3 152.7L395.8 151.8L396.2 150.9L396.5 151.1L396.3 152.3L396.1 153.5ZM371.3 136.6L371.8 135.6L372 134.7L371.9 133.1L372.8 132.8L373.7 132.5L374 131.7L375.1 131.3L375.8 131.4L376.5 131.6L377.1 132.4L376.7 133.6L376.5 134.5L376.4 135.4L376.2 136.2L375 136.6L373.7 136.9L372.8 137.1L371.9 137.4ZM378.2 135.3L378.4 134.5L379.3 134.5L380.3 134.4L380.4 133.4L379.9 132.7L379.8 132L378.8 132.1L377.8 132.1L378.1 130.8L377.1 131.4L377.2 130.5L377.2 129.6L377.5 128.1L377.8 127.2L378.2 126.4L379.1 126.4L380 126.3L380.4 126.6L379.7 127.3L379 128.1L379.9 127.8L380.9 127.9L381.9 128.1L381.6 128.6L380.9 129.9L380.4 130.4L381.6 130.7L382.3 131.9L383.1 132.6L383.9 133.3L384.1 134.1L384.4 135.2L385.2 135.1L386.2 135.6L386.1 136.6L385 137.2L385.8 137.5L385.7 137.9L385 138.2L384.3 138.5L383.3 138.5L382.4 138.5L381.7 138.7L380.9 138.9L379.9 139L378.9 139.2L378.2 139.5L377.5 139.8L376.9 139.6L377.6 138.9L378.3 138.1L378.8 137.8L379.5 137.7L380.3 137.7L380 137.4L379 137.2L378.2 137L377.5 136.7L378.1 136.4L378.8 136.1ZM397.1 130.8L398.1 130.6L399.1 130.4L398.7 131.9L397.5 131.6ZM406.1 129L405.4 128.4L406.2 127.5ZM367.4 118L366.3 118.4L365.1 118.8L363.9 119.3L363 119.1L362.1 119L361.2 118.8L360.4 118.8L359.6 118.7L358.6 117.9L357.7 117.1L358.8 116.7L360 116.2L359.1 116.2L358.2 116.1L357.3 116.1L358.3 115.7L359.3 115.3L360.2 114.9L361.3 115L362.4 115.1L363.4 115.2L364.5 115.2L365.4 115.2L366.4 115.2L367.3 115.1L368.2 115.1L368.7 115.9L369.2 116.7L368.3 117.3ZM439.8 106.5L439.8 106.6L441.5 107.8L443.2 109.1L442.3 109.1L441.3 109.1L440.4 109L439.5 109L438.5 109L437.5 108.4L436.5 107.9L437.1 107.6L437.8 107.4L438.5 107.1L439.2 106.8ZM448.7 100.9L448.2 101.4L447.8 101.9L447.4 102.3L446.7 102.6L446 102.9L445.3 103.2L444.6 103.5L443.9 103.8L443.2 104.1L442.5 104.4L441.9 105L441.3 105.6L440.6 106.2L439.8 106.5L439.8 105.2L439.8 104L440.5 103.6L441.2 103.1L441.9 102.7L442.6 102.3L443.3 102.1L444.1 102L444.9 101.8L445.6 101.6L446.4 101.5L447.2 101.3L447.9 101.1ZM394.1 99L394.2 98.3L394.3 97.5L395.2 97.5L396 97.4L396.8 97.4L397.6 97.4L398.4 97.3L399.2 97.3L400.2 97.4L401.1 97.5L402 97.6L403 97.7L403.9 97.9L404.8 97.7L405.6 97.6L406.5 97.5L407.4 97.4L408.2 97.3L407.4 97.7L406.7 98L405.9 98.4L405.1 98.8L404.3 99.2L403.5 99.6L402.7 100L402 100.3L401.2 100.7L400.4 101.1L399.7 101.4L398.8 101L397.9 100.6L397.1 100.2L396.1 99.8L395.1 99.4ZM469.7 97.3L470.1 97L470.6 96.8L471 96.5L471.5 96.3L471.9 96L473.2 96.4L474.5 96.7L475.8 97.1L477.2 97.5L478.5 97.9L477.9 98L477.2 98.2L476.6 98.4L475.9 98.6L475.3 98.8L474.6 99L472.9 98.4L471.3 97.9ZM428.1 96.2L428.9 96.1L429.7 96L430.5 95.9L431.3 95.8L432.1 95.7L432.9 95.6L433.7 95.5L434.5 95.4L435.5 95.5L436.4 95.7L437.4 95.8L438.4 95.9L439.4 96.1L440.4 96.2L439.8 96.4L439 96.6L438.3 96.9L437.6 97.1L436.8 97.1L435.9 97.1L435 97.2L434.1 97.2L433.3 97.2L432.4 97.2L431.5 97.3L430.6 97.3L429.7 97.2L428.7 97.1L427.7 97L426.8 96.9L425.8 96.8L426.6 96.6L427.3 96.4ZM599.4 294.8L601.2 293.9L603 292.9L604.7 292.2L606.3 291.5L607.9 290.8L609.2 289.8L610.4 288.9L612 287.7L613.2 287.3L613.5 288.2L613.8 289.2L612.1 290.3L610.8 291.5L609.5 292.6L607.9 293.1L606.3 293.6L605 294.8L603.6 296L602 296.5L600.4 297.1L599.6 296.8L598.9 296.4L598.1 296.1ZM580.4 287.9L579.7 289L579 290L577.7 290.9L576.5 291.8L575.5 292.3L575.2 291.1L574.9 290L575.2 289L575.5 288.1L575.7 287.6L576.9 287.7L578 287.7L579.2 287.8ZM617.9 287.3L616.6 288.1L615.3 289L614.7 288.5L616.2 287.3L616.1 286.3L616 285.3L617.3 284.2L618.5 283.2L618.8 281.7L619 280.3L619.1 278.8L619.6 277.3L620 278.5L620.4 279.6L620.1 281.2L620.6 281.6L621 282L621.7 282.6L622.4 283.2L623.3 282.9L624.2 282.7L623 283.8L621.7 285L619.9 285.6ZM595.9 257.4L596.6 258.8L597.2 260.3L598 261.3L598.8 262.3L598.5 263.5L598.2 264.7L597.9 265.9L597.9 266.9L597.8 267.8L596.9 269.2L596 270.6L595.5 271.5L594.9 272.4L593.6 273.6L592.3 274.9L590.8 276.4L590 277.4L589.1 278.5L588 279.6L586.8 280.7L586.3 281.6L585.8 282.5L584.3 282.7L582.8 283L581.2 284L579.6 285L578.9 284.2L578.2 283.5L577.1 284L576 284.6L575 284.2L573.9 283.8L573.2 282.8L572.4 281.9L572.5 280.7L572.5 279.6L572.5 278.3L572.5 277L571 278.6L570.9 277L571.9 276L573 275L571.1 276.4L569.2 277.8L569 276.8L568.8 275.8L568.2 274.7L568 273.6L566.9 273.2L565.8 272.9L564.6 272.6L563.2 272.7L561.8 272.9L560.3 273.2L558.8 273.6L557.3 273.9L555.7 274.5L554.1 275L552.9 275.5L551.8 276L550.6 276.4L549.5 276.6L548.3 276.8L547.1 277L545.8 277.6L544.4 278.3L543.3 278L542.2 277.6L541 277.3L541.8 276L542.6 274.7L543.3 273.4L543.4 271.8L543.4 270.1L543.4 269.1L543.4 268.2L543.1 266.7L542.8 265.3L542.5 263.9L543.1 262.9L543.7 261.8L543.9 260.2L544.1 258.7L544.7 257.7L545.3 256.7L546.5 256.1L547.7 255.5L549 254.9L550 254.7L551 254.5L552.1 254.3L553.3 253.8L554.5 253.4L555.7 253L556.8 251.7L557.8 250.5L558.6 249.2L559.3 247.9L560.1 247.6L561 247.2L562.2 246L563.5 244.8L564.6 244.4L565.7 244L566.4 244.8L567.1 245.6L568.1 245.5L569.1 245.4L569.7 243.9L570.2 242.3L571.5 241.4L572.8 240.5L574.2 239.6L575.4 240.1L576.6 240.5L577.9 241L578.9 240.9L579.9 240.7L580.3 241.2L579.4 242L578.5 242.8L578.1 244.1L577.7 245.4L578.6 246.4L579.5 247.4L580.8 248.1L582.1 248.9L583.3 249.3L584.5 249.7L585.1 248.3L585.7 247L586.4 245.6L586.5 244.3L586.7 243L586.8 241.7L587.4 241.7L588 240.1L588.6 238.6L588.8 239.9L589 241.3L589.2 242.6L589.3 244L590.4 245.2L591.5 246.4L591.6 247.6L591.8 248.7L591.9 250L592 251.3L592.4 252.6L593.6 253.5L594.8 254.4L595.1 255.6L595.5 256.5ZM619 257.5L618.1 256.4L617.3 255.3L616.4 254.1L617.6 255.2L618.7 256.3L619.9 257.4ZM636.5 249.5L637.3 249.5L638.2 249.4L638 250.8L637.1 250.8L636.1 250.8ZM622.8 246.9L622.5 247.7L622.3 246.7L622.1 245.6ZM555.7 237.1L555.1 236.6L556.3 237L557.6 237.3L556.7 237.2ZM562.3 236.3L563.8 234.8L564.9 234.8L566 234.8L567.1 234.8L566 235.5L564.8 236.2L563.7 237ZM615.1 237.1L616 237.8L614.7 237L613.3 236.1L612.2 235.2L611.1 234.3L610 233.4L609.4 232.2L610.5 232.9L611.7 233.5L612.8 234.2L614 235.6ZM556.3 235L557.5 234.8L558.6 234.7L559.7 234.5L560.9 234.3L559.5 235.5L558 235.6L556.6 235.6ZM596 234L597.2 235.3L598.3 236.6L599.5 237.9L598.1 237.8L596.6 237.6L595.4 236L594.1 234.3L592.7 234L591.3 233.7L590.5 234.8L589.6 236L588.2 236L586.8 236L585.4 235.2L584 234.3L583.6 232.8L583.2 231.3L582.8 229.8L581.4 229.3L580 228.8L578.7 228.3L577.2 228L575.8 227.6L575.1 226.7L574.4 225.7L575.3 225.2L576.2 224.7L575.2 224.3L574.1 223.8L573.1 223.4L574.5 222.8L576 222.2L576.9 223.7L577.8 225.1L578.7 226.5L580.2 225.6L581.7 224.6L583.2 223.7L584.6 224.3L586 224.8L587.4 225.3L588.9 226L590.3 226.7L591.7 227.4L593.1 228.1L593.7 229.2L594.4 230.3L595.7 230.7L596.9 231.2L596.5 232.6ZM597.7 230.1L598.9 229.6L600.1 229.1L601.3 228.6L602.5 228.1L602.8 229.1L603.1 230.1L601.6 230.7L600.1 231.4L598.9 230.7ZM572.7 226.7L571.7 226.8L570.8 227L569.7 226.7L568.6 226.3L570 226.4L571.3 226.5ZM559.4 222.7L560.7 222.7L562.1 222.7L561.1 223.2L560.1 223.6L559 224L559.6 225.6L560.1 227.2L560.6 228.8L559.6 227.8L558.7 226.8L557.7 225.8L557.6 227.3L557.6 228.8L557.5 230.3L556.1 230.1L556.2 228.5L556.4 226.8L555.4 225.5L555.9 224L556.4 222.6L556.9 221.1L557.5 220L558.8 219.7L560.2 219.4L561.6 219.1L562.9 218.8L564.3 218.5L562.9 219.5L561.5 220.4L560.3 220.4L559.1 220.3L557.9 220.3L558.7 221.5ZM568 218.6L568.9 219.1L569.8 219.5L569.2 220.7L568.6 221.9L569.3 220.3ZM561.7 207L563 206.1L564.4 205.1L565 206.4L565.6 207.8L566.3 209.2L565.5 210.6L564.7 211.9L563.7 211.2L562.6 210.5L561.2 210.2L559.8 209.8L559.7 209.7L560.7 208.4ZM561.4 203.9L562.7 202.3L564.2 203.1L563.6 204.8L562.4 205.4L561.1 206.1L559.9 205.2L559.2 203.9L560.3 203.9ZM560.1 198.5L561.7 199.9L560.7 199.2L559.7 198.5ZM557.7 190.9L557.8 192.5L558 194.1L557.6 195.3L558.4 196.8L559.3 198.2L559.7 198.5L558.8 198.4L557.9 198.2L556.5 197.9L555.9 196.4L555.2 195L555.3 193.6L555.4 192.2L555.4 190.9L556.6 190.9ZM554.5 179.8L555.2 180.1L555.3 181.4L555.3 182.7L554.9 183.9L554.5 185.1L553.4 183.5L553.3 182.2L553.9 181ZM562.9 165.7L564.7 166.7L564.9 167.7L565 168.8L564.9 170.4L563.7 170L563.3 168.9L562.8 167.8L562.2 167.5L561.8 166.4ZM567.9 166.8L567.2 167.2L566.6 167.7L565.3 166.8L565.7 165.5L566.7 165.4L567.8 165.2L568.2 165.9ZM571.1 159.2L570.8 157.7L570.5 156.2L569.5 154.8L569.6 153.8L570.2 153.7L570.8 153.5L571.8 154.9L573.4 156.4L573.6 157.5L573.8 158.5L573.2 158.6L573.7 159.6L574.1 160.6L574.6 161.7L575.1 162.8L574.7 163.4L574.3 164.1L573 163.6L573.2 164.6L572 164.6L570.7 164.6L570.8 165L570.4 165.7L569.9 166.4L568.4 165L568.3 164.6L566.8 164.4L566.1 164.6L565.4 164.9L564.7 165L563.7 165.5L562.8 165.5L563.5 164.5L564.1 163.4L564.6 163.1L565.9 163L567.3 162.9L568.4 163.1L568.5 162L568.6 161L568.7 160.3L569.7 160.3L570.7 160.3ZM572.8 148.8L574.5 150.3L573.8 150.6L573.1 150.9L572.9 151.8L572.7 152.7L571.8 152.7L570.9 152.8L570.1 152.8L569.4 153.1L568.8 153.3L568.5 152L567.5 151.5L568.2 150.6L568.2 149.6L567.7 148.6L567.2 147.7L567.1 146.9L568.8 147.8L570.4 148.8L571.6 148.8ZM566.2 143.7L568 145.3L567.3 145.7L566.6 146.1L565.5 144.6L564.4 143.2L563.2 141.8L562.5 140.6L561.7 139.3L560.9 138.1L559.9 136.8L558.9 135.5L557.9 134.3L556.9 133L558.5 134.4L560.1 135.8L561.3 137L562.5 138.1L564.5 139.7L566.5 141.3L565.5 141.1L564.4 141L565.3 142.3ZM568.9 108.9L567.9 108.7L566.9 108.6L567 108.2L567.1 107.8ZM528.2 103.6L527.4 103.7L526.6 103.8L525.8 103.9L525 104L524.2 104.1L523.4 104.2L522.4 104.2L521.5 104.1L520.5 104.1L519.5 104L518.6 104L518.6 103.4L518.5 102.9L518.4 102.3L519.5 102.4L520.5 102.4L521.5 102.4L522.5 102.5L523.6 102.5L524.6 102.5L525.6 102.6L526.6 102.6L527.7 102.7L528.7 102.7L528.5 103.1Z" fill="#e3eaea" stroke="#404545" stroke-width="0.6" stroke-linejoin="round"/><path d="M381.6 163.7L381.5 164.7L381.9 166.3L382.4 167.8L381.2 168.2L380.0 168.6L378.9 169.5L378.0 170.8L377.1 172.1L375.8 172.6L374.5 173.1L373.2 173.5L371.9 174.0L371.9 175.3L371.8 176.5L371.8 176.5M371.9 175.8L370.6 175.8L369.3 175.8L368.1 175.8L366.8 175.8L365.6 175.8L365.6 175.8M371.8 176.5L371.8 177.5L371.8 178.6L370.7 178.6L369.5 178.6L368.3 178.6L367.2 178.6L367.2 180.0L367.1 181.3L367.1 182.7L366.3 183.3L365.5 183.8L365.6 185.1L365.6 186.3L364.5 186.3L363.3 186.3L362.2 186.3L361.0 186.3L359.9 186.3L359.9 186.3M371.8 176.5L373.2 177.4L374.5 178.4L375.9 179.3L377.3 180.2L376.1 180.3L374.9 180.4L375.0 181.9L375.1 183.5L375.3 185.0L375.4 186.5L375.6 188.0L375.7 189.6L375.9 191.1L376.0 192.6L376.2 194.1L376.4 194.5L375.3 194.7L374.1 195.0L372.9 195.2L371.7 195.5L370.6 195.8L369.1 195.7L367.7 195.6L366.6 197.2L366.1 195.8L364.9 194.9L363.6 194.0L362.6 194.2L361.5 194.4L360.5 194.6L360.5 194.6M377.3 180.2L378.7 181.3L380.1 182.4L381.5 183.5L382.9 184.6L384.3 185.7L385.7 186.8L387.1 188.3L388.5 189.9L389.3 189.8L390.0 189.8L391.3 189.5L392.5 189.2L393.7 188.4L395.0 187.5L396.2 186.7L397.4 185.8L398.6 184.8L399.8 183.7L400.9 182.7L399.5 181.6L398.1 180.6L397.7 179.2L397.3 177.8L397.8 177.0L397.7 175.3L397.5 173.7L397.3 172.1L397.2 171.7L397.6 170.6L398.1 169.5L398.9 168.2L399.8 166.9L399.8 166.9M397.2 171.7L396.2 170.2L395.2 168.7L394.3 167.2L394.7 165.9L395.2 164.6L395.2 163.4L395.2 162.3L395.6 160.7L395.6 160.7M400.9 182.7L402.3 183.5L403.8 184.3L405.2 183.5L406.6 184.1L408.0 184.8L409.4 185.4L410.9 186.1L412.3 186.7L413.7 187.3L415.2 188.0L416.6 188.6L418.1 189.2L418.0 188.4L419.4 188.4L419.4 186.8L419.3 185.1L419.3 183.5L419.2 181.9L419.1 180.2L419.0 178.6L418.9 177.0L418.9 175.3L418.8 173.7L418.6 172.1L418.7 170.8L418.7 169.5L418.7 169.5M419.3 185.1L420.6 185.1L421.9 185.1L423.1 185.1L424.4 185.1L425.7 185.1L427.0 185.1L428.2 185.1L429.5 185.1L430.9 185.1L432.2 185.1L433.5 185.1L434.8 185.1L436.1 185.1L436.1 185.1M418.1 189.2L418.1 190.8L418.1 192.3L418.1 193.9L418.1 195.4L417.7 196.6L417.2 197.8L416.8 199.0L416.0 200.5L416.3 201.8L416.7 203.1L416.9 203.3L415.9 204.1L414.9 204.9L413.8 205.4L412.6 205.9L411.5 206.4L410.2 207.0L408.9 207.6L407.6 208.2L406.3 208.8L405.5 210.0L404.7 211.1L405.4 212.7L406.1 214.3L406.7 215.9L407.4 217.5L408.5 216.8L409.7 216.1L410.8 215.4L412.2 215.1L413.6 214.9L414.9 214.6L416.3 214.4L417.5 213.9L418.8 213.4L420.0 212.9L421.2 212.9L422.3 212.8L423.5 212.8L422.3 211.3L421.2 209.8L420.0 208.7L418.9 207.6L417.8 206.6L417.3 204.9L416.9 203.3L416.9 203.3M405.2 183.5L405.4 184.9L405.7 186.2L406.0 187.6L406.3 188.6L406.1 189.9L406.0 191.3L405.8 192.6L405.7 194.0L404.9 195.4L404.2 196.8L403.5 198.2L404.3 199.9L404.6 201.1L405.0 202.3L405.3 203.5L405.7 204.8L404.9 205.2L404.1 205.6L405.2 207.2L406.3 208.8L406.3 208.8M390.0 189.8L390.0 191.3L390.0 192.8L390.0 194.3L389.1 195.6L388.0 195.9L386.8 196.2L385.6 196.5L384.4 196.8L384.3 197.6L385.7 199.0L387.2 200.5L387.2 202.0L388.2 202.0L389.2 202.0L389.6 200.5L390.0 199.0L391.3 199.3L392.5 199.5L393.7 199.7L395.1 199.9L396.4 200.0L397.8 200.2L399.0 200.0L400.3 199.9L401.6 199.7L402.5 199.0L403.5 198.2L403.5 198.2M384.4 196.8L383.3 197.1L382.2 197.5L381.1 197.9L380.4 198.4L379.6 198.9L378.5 200.2L377.4 201.6L376.2 203.0L375.0 203.5L373.9 203.9L372.7 204.4L372.4 203.5L372.1 202.5L371.0 202.2L369.9 201.9L368.8 201.7L367.7 200.8L367.3 199.6L366.9 198.4L366.6 197.2L366.6 197.2M367.7 200.8L366.6 200.7L365.5 200.6L364.4 200.5L362.9 200.6L361.5 200.7L360.1 200.8L360.1 200.8M359.9 198.9L361.4 198.9L362.8 199.0L364.2 199.0L362.9 199.2L361.6 199.4L360.2 199.5L360.2 199.5M372.7 204.4L372.4 205.8L372.1 207.3L371.8 208.7L372.1 210.0L372.5 211.3L372.8 212.7L373.2 214.0L373.2 214.0M365.0 206.2L366.2 206.1L367.4 206.0L368.6 205.9L369.2 207.2L368.3 208.5L367.4 209.8L367.4 209.8M362.5 203.3L363.4 201.9L364.4 200.5L364.4 200.5M379.4 212.8L379.6 211.2L379.8 209.7L380.0 208.2L380.0 206.9L380.0 205.7L380.0 204.4L380.0 203.1L381.3 203.1L382.7 203.1L384.0 203.1L385.3 203.1L386.2 202.6L387.2 202.0L387.2 202.0M376.2 203.0L377.5 203.0L378.7 203.1L380.0 203.1L380.0 203.1M385.7 211.1L385.4 209.9L385.2 208.7L384.9 207.5L384.6 206.1L384.3 204.6L384.0 203.1L384.0 203.1M386.3 211.0L386.3 209.4L386.3 207.9L386.3 206.4L385.8 204.8L385.3 203.1L385.3 203.1M387.9 210.6L387.9 209.2L387.9 207.8L387.9 206.4L388.3 204.9L388.7 203.5L389.2 202.0L389.2 202.0M396.4 213.4L397.0 212.3L397.5 211.1L398.1 210.0L399.6 209.8L401.0 209.7L401.6 208.4L402.1 207.0L402.7 205.7L403.4 204.6L404.2 203.5L405.0 202.3L405.0 202.3M398.1 217.3L399.2 217.4L400.3 217.5L401.7 217.5L403.2 217.5L404.6 217.5L406.0 217.5L407.4 217.5L407.4 217.5M398.1 219.5L399.2 219.5L400.3 219.5L400.3 218.5L400.3 217.5L400.3 217.5M400.4 227.6L401.2 226.3L402.0 225.0L403.5 225.0L404.9 224.4L404.7 222.8L404.5 221.2L404.2 219.6L403.7 218.6L403.2 217.5L403.2 217.5M418.4 207.0L419.6 206.6L420.9 206.1L422.1 205.6L423.3 205.5L424.5 205.4L425.7 205.2L426.8 205.1L427.8 204.9L428.7 203.7L429.6 202.4L430.5 201.2L431.3 202.6L432.1 204.1L432.9 205.6L433.4 207.2L433.9 208.8L434.4 210.5L435.1 212.0L435.8 213.6L435.8 213.6M423.5 212.8L424.7 213.4L426.0 214.1L427.2 214.7L428.4 215.4L429.5 215.3L430.7 215.3L431.8 215.3L432.9 215.2L434.3 214.4L435.8 213.6L435.8 213.6M432.9 205.6L433.4 204.3L433.9 203.1L434.4 201.8L435.0 200.5L435.6 199.1L436.2 197.7L436.4 196.3L436.6 194.8L436.7 193.3L437.8 192.5L438.9 191.7L438.9 191.7M436.2 197.7L437.4 197.5L438.6 197.3L439.8 197.1L440.8 197.7L441.9 198.4L443.0 199.0L443.9 199.9L444.8 200.7L444.4 201.9L444.0 203.1L444.8 203.1L445.6 203.1L446.1 202.3L446.1 202.3M445.6 203.1L446.4 204.8L447.3 206.4L448.7 206.8L450.1 207.2L451.5 207.6L452.9 208.0L451.6 209.7L450.2 211.3L448.9 212.9L447.8 213.3L446.6 213.7L445.5 214.2L444.4 214.6L443.2 214.7L442.0 214.9L440.8 215.1L439.5 215.2L438.3 214.7L437.0 214.1L435.8 213.6L435.8 213.6M444.4 214.6L443.8 215.5L443.2 216.5L443.2 218.0L443.2 219.5L443.2 221.1L443.2 222.6L444.0 223.7L444.0 223.7M440.5 228.8L439.5 227.4L438.4 226.0L437.1 225.2L435.7 224.4L434.4 223.6L433.1 222.7L433.1 221.1L433.1 219.5L434.5 217.8L433.7 216.5L432.9 215.2L432.9 215.2M428.4 215.4L428.0 216.8L427.7 218.2L427.3 219.7L426.9 221.1L426.8 222.2L426.7 223.4L426.5 224.7L426.3 226.0L426.5 227.2L426.7 228.5L427.0 230.0L427.3 231.6L427.6 233.1L427.9 234.7L429.0 235.3L430.2 235.9L431.3 236.5L432.1 237.7L432.9 238.9L433.6 240.1L434.2 240.1L435.5 239.8L436.8 239.5L438.1 239.2L439.4 238.9L440.7 238.6L442.0 238.3L442.0 238.3M433.1 222.7L431.9 222.7L430.8 222.7L429.6 222.7L428.5 222.7L427.6 223.1L426.7 223.4L426.7 223.4M401.7 230.9L403.1 230.9L404.4 230.9L405.7 230.9L407.1 230.9L408.2 232.5L409.3 234.2L410.7 233.4L412.1 232.5L413.2 232.7L414.3 232.9L415.4 233.0L415.4 234.5L415.5 236.1L415.5 237.6L415.6 239.1L417.0 239.1L418.5 239.1L418.4 239.9L417.0 241.1L415.5 242.3L415.5 243.7L415.5 245.0L415.4 246.3L415.4 247.6L416.4 248.7L417.3 249.9L417.3 249.9M418.4 239.9L419.5 239.6L420.6 239.4L421.8 240.1L423.0 240.8L424.1 241.5L425.5 243.0L426.0 241.9L426.5 240.7L426.0 239.1L425.5 237.4L425.0 235.8L426.4 235.2L427.9 234.7L427.9 234.7M401.7 229.8L402.8 229.3L403.8 228.9L404.9 228.5L405.7 227.1L406.6 225.7L407.4 224.4L408.2 222.7L408.9 221.1L409.7 219.5L410.1 218.1L410.5 216.7L410.8 215.4L410.8 215.4M400.7 249.3L401.9 249.4L403.1 249.5L404.2 249.5L405.4 249.5L406.7 249.5L407.9 249.5L409.1 249.5L410.3 249.5L411.5 249.9L412.7 250.2L413.9 250.5L415.0 250.3L416.2 250.1L417.3 249.9L418.6 250.0L419.9 250.2L419.9 250.2M412.1 261.6L412.2 260.1L412.2 258.6L412.3 257.1L413.7 257.1L413.7 255.4L413.8 253.8L413.8 252.1L413.9 250.5L413.9 250.5M419.9 250.2L420.7 251.8L421.6 253.5L422.6 254.8L423.6 256.2L424.6 256.8L425.5 257.4L425.5 257.4M419.9 250.2L421.2 249.5L422.6 248.8L423.9 248.1L425.1 247.6L426.2 247.1L427.4 246.6L428.6 247.1L429.8 247.6L431.1 248.1L430.9 249.4L430.7 250.8L430.6 252.1L430.0 253.5L429.4 254.9L428.8 256.3L428.2 257.7L428.2 257.7M427.4 246.6L428.8 245.7L430.2 244.8L431.7 244.0L431.8 242.3L431.9 240.7L432.0 239.1L431.6 237.8L431.3 236.5L431.3 236.5M433.6 240.1L433.9 241.6L434.2 243.2L434.5 244.8L434.8 246.0L435.1 247.2L434.7 248.1L434.3 249.0L433.6 247.7L433.0 246.4L432.3 245.2L431.7 244.0L431.7 244.0M432.7 162.4L433.4 161.0L434.4 161.0L435.3 161.0L436.5 160.9L437.7 160.8L438.8 160.7L440.0 160.6L441.2 160.5L442.3 160.4L443.3 160.4L444.4 160.3L444.4 160.3M438.9 153.3L440.2 153.7L441.5 154.0L441.5 154.0M418.5 153.6L418.4 154.5L418.4 154.5M441.2 160.5L440.9 161.9L440.5 163.4L440.2 164.9L439.2 165.4L438.2 166.0L437.1 166.5L437.5 167.5L437.9 168.5L439.3 169.1L440.6 169.8L442.0 170.4L443.4 171.4L444.7 172.4L446.1 173.4L447.4 173.5L448.6 173.5L449.5 174.0L450.4 174.5L451.4 174.5L451.4 174.5M448.6 173.5L449.6 172.8L450.5 172.1L450.5 172.1M432.9 164.6L433.8 165.2L433.0 166.7L434.6 168.3L435.9 167.4L437.1 166.5L437.1 166.5M432.8 166.8L432.9 168.2L433.0 169.6L432.8 171.3L432.6 172.9L432.6 172.9M431.2 170.0L431.8 171.4L432.4 172.9L432.4 172.9M437.9 168.5L437.0 168.9L436.0 169.2L435.0 169.6L436.6 171.3L435.3 172.3L434.0 173.4L432.6 173.1L432.6 173.1M445.0 194.3L445.9 193.5L446.7 192.7L448.1 192.9L449.5 193.1L451.0 193.3L452.3 192.0L453.6 190.7L455.0 190.5L456.4 190.3L457.9 190.1L459.1 188.8L460.3 187.6L461.5 186.4L462.7 185.1L462.7 185.1M457.9 190.1L458.0 191.4L458.2 192.7L458.4 194.0L458.4 194.0M455.7 180.9L456.2 181.4L456.2 181.4M443.5 153.7L444.4 153.2L445.2 152.7L445.2 152.7M458.0 153.7L459.0 153.7L460.0 153.7L460.4 152.7L460.8 151.7L461.9 152.1L463.0 152.5L464.1 153.2L465.3 153.8L466.3 155.2L467.4 156.6L468.9 157.4L470.4 158.2L472.0 159.1L473.6 160.0L473.6 160.0M466.7 161.3L467.8 162.4L468.9 163.4L470.1 162.7L471.3 161.9L472.5 161.0L473.6 160.0L474.5 160.2L475.4 160.5L476.4 160.3L477.3 160.0L478.2 159.8L479.4 160.3L480.5 160.8L481.6 160.6L482.7 160.4L483.8 160.2L484.9 160.0L484.9 160.0M475.4 160.5L475.4 159.2L475.4 157.9L475.4 156.6L475.5 155.4L475.6 154.1L476.9 154.7L478.3 155.3L479.5 154.9L480.7 154.5L481.5 155.4L482.4 156.4L482.4 156.4M476.5 155.8L477.6 156.0L478.8 156.2L479.9 156.4L481.1 156.7L482.3 156.9L482.3 156.9M514.7 187.3L514.8 186.2L514.8 185.1L514.8 185.1M525.7 204.8L526.3 203.1L525.8 201.5L525.3 199.9L524.9 198.2L524.5 196.6L523.9 195.3L523.3 194.0L523.5 192.7L523.6 191.4L523.7 190.2L523.9 188.9L524.9 188.3L525.8 187.8L526.4 186.6L527.0 185.5L527.0 185.5M525.8 187.8L526.7 188.5L527.6 189.2L527.8 190.9L527.9 192.5L529.0 192.2L530.0 191.8L531.1 192.6L532.2 193.4L533.3 194.1L534.1 195.4L534.9 196.6L534.9 197.7L534.9 197.7M528.3 184.5L529.7 185.5L531.0 186.5L531.7 187.7L532.4 188.9L533.4 190.2L534.5 191.5L535.5 192.8L536.5 194.2L537.5 195.6L537.7 197.1L537.7 197.1M534.9 197.7L533.5 198.1L532.1 198.5L530.7 198.9L531.2 200.5L531.6 202.1L531.6 202.1M534.9 197.7L536.3 197.4L537.7 197.1L537.9 198.4L538.0 199.8L538.1 201.2L537.4 201.6L536.6 202.0L535.7 202.6L534.8 203.3L534.1 204.1L534.1 204.1M528.2 210.5L529.5 210.8L530.3 210.9L531.1 211.0L531.1 211.0M542.2 217.8L543.3 218.1L544.5 218.4L545.6 218.6L546.9 218.7L548.1 218.8L549.4 218.8L550.2 217.6L550.9 216.4L552.3 215.3L553.7 214.2L553.7 214.2M587.4 225.3L587.4 226.9L587.3 228.4L587.2 229.9L587.1 231.4L587.0 232.9L586.9 234.5L586.8 236.0L586.8 236.0M281.9 201.7L280.4 203.0L280.1 204.3L279.8 205.6L279.8 206.7L279.8 207.9L279.8 209.0L280.9 209.2L282.0 209.4L283.1 209.7L284.1 210.1L285.2 210.5L286.3 211.0L286.5 212.3L286.7 213.6L286.9 214.9L286.2 216.5L286.8 217.8L287.4 219.1L287.4 219.1M270.0 218.6L271.1 219.5L272.3 220.4L273.3 220.7L274.3 221.0L275.3 221.3L276.5 222.2L277.8 223.1L278.9 224.0L280.1 225.0L281.1 226.0L282.2 227.0L283.2 228.0L283.2 228.0M268.2 226.7L268.4 227.6L268.7 228.5L270.1 229.3L270.6 228.0L271.1 226.8L272.1 225.4L273.2 224.0L274.2 222.7L275.3 221.3L275.3 221.3M297.7 207.2L296.8 208.7L295.9 210.2L296.2 211.4L296.5 212.6L296.5 212.6M301.6 211.5L301.0 213.0L300.4 214.6L301.1 215.7L301.8 216.9L302.5 218.0L302.5 218.0M282.8 239.1L283.6 240.7L284.4 242.3L285.0 244.0L285.7 245.6L285.5 247.0L285.3 248.3L285.0 249.7L284.1 251.2L284.1 251.2M285.0 249.7L286.1 251.3L287.1 253.0L287.0 254.6L287.0 256.2L288.1 257.3L289.2 258.4L289.2 258.4M295.6 257.5L296.0 256.1L296.5 254.6L297.7 253.9L299.0 253.3L300.2 252.6L301.1 253.1L302.0 253.6L302.0 253.6M272.7 206.9L272.3 208.1L271.8 209.3L271.8 209.3M257.1 192.0L256.9 193.6L256.7 195.1L256.7 195.1M258.1 195.4L257.2 196.5L256.4 197.6L255.0 198.7L255.0 198.7M256.4 197.6L257.3 198.4L258.3 199.2L258.3 199.2M258.4 199.9L259.6 199.0L260.9 198.2L262.4 197.4L263.8 197.0L265.1 196.6L265.1 196.6M261.0 203.0L262.4 203.1L263.8 203.3L263.8 203.3M264.7 207.9L265.0 206.7L265.3 205.6L265.3 205.6M282.3 188.9L282.1 190.3L282.0 191.7L282.0 191.7M404.3 147.4L405.3 147.4L406.4 147.5L407.5 147.6L408.6 147.7L409.1 147.4L408.2 146.2L408.2 146.2M408.6 147.8L409.4 149.3L409.1 150.1L408.3 151.7L408.3 151.7M409.1 150.1L409.8 150.7L410.6 151.2L411.6 152.2L412.5 152.1L413.4 152.0L413.4 152.0M409.6 152.7L410.4 151.7L410.4 151.7M410.4 151.7L410.8 152.8L411.1 154.0L411.7 154.9L410.6 156.2L410.6 156.2M411.7 154.9L411.7 154.3L413.0 153.9L414.3 153.6L414.3 153.6M412.6 127.5L413.3 127.5L414.0 127.5L415.1 127.7L416.3 127.9L416.3 127.9" fill="none" stroke="#404545" stroke-width="0.6" stroke-linejoin="round"/><path d="M264 141.3L264.3 140.7L264.2 141.8L265.3 141.8L266.4 141.9L267.5 142.2L268.6 142.5L269.8 142.7L270.3 143L271.4 142.7L272.5 142.4L273.2 143L274 143.5L274.8 144.1L275.6 144.6L275.9 145.3L276.6 146.2L277.1 146.7L277.6 147.2L277.1 148.4L276.5 149.7L276 150.9L274.6 152.5L275.2 152.8L275.9 153L277.4 152.4L278.9 151.8L280.5 151.2L280.7 150.5L281.9 150.3L283 150.1L284.2 149.9L285.6 148.9L286.9 147.8L287.4 147.7L288.4 147.7L289.4 147.7L290.5 147.7L291.5 147.7L292.3 147.2L293.5 146.2L294.4 145L295.8 143.8L296.9 143.9L297.4 144.3L297 145.4L296.7 146.6L297.2 147.5L297.3 147.9L297.2 148L295.9 148.4L294.6 148.8L293.5 149.4L292.4 149.9L291.1 151.5L291.8 152.8L290.6 153.2L289.5 153.7L288.6 153.7L287.6 153.8L286.7 154.4L285.8 154.9L285.3 156.2L283.8 157.5L283.1 158.7L282.3 159.8L281.4 160.8L281.4 162.2L281.3 163.6L279.8 164.4L278.6 165L277.4 165.7L276.4 166.3L275.5 166.8L274.1 167.8L272.9 169L271.6 170.1L271.3 171.6L271.5 173.1L271.8 174.5L271.8 176.2L271.9 177.8L271.7 178.9L270.8 180L270 179.8L269.8 178.9L269.5 178L269.1 176.8L268.6 175.7L269 174L268.7 173.5L268 172.8L267.3 172.1L266.4 172.3L265.5 172.6L264.9 172L264.3 171.4L263.2 171.4L262.2 171.4L261.3 171.6L260.5 171.7L260.3 172.6L260 173.5L259.1 173.5L258.2 173.5L257.3 173.1L256.3 172.7L255.1 172.6L253.9 172.6L252.3 173.2L251 174L249.6 174.9L248.4 175.7L247.8 177.1L247.8 178.7L247.3 178.8L246.3 178.3L245.3 177.8L245.1 176.2L244.3 174.9L244.1 173.7L243.9 172.6L243 172.5L242 172.4L240.5 173.7L239.8 173.2L239 172.7L238.4 171.5L237.8 170.3L237.3 169.1L236.1 169.1L235 169.1L234.7 170L233.4 170L232 170L230.7 170L229.6 169.5L228.5 169L227.4 168.5L226.3 168L226.5 167.7L225.4 167.8L224.2 167.9L223.1 168L223.1 167.7L222.6 166.7L222.2 165.7L221.3 165.4L220.5 165L219.7 164.7L219.5 163.6L219.4 162.4L219.2 161.3L219.3 160.3L219.3 159.3L218.9 158.4L218.6 157.4L218.7 156.2L218.8 155.1L219.7 153.8L220.5 152.5L221 150.9L222 149.6L222.9 148.3L223.8 147L224.7 145.8L225.2 144.6L225.6 143.4L226.1 142.2L227 142.5L227.9 142.7L229.2 141.3L230.4 141.3L231.7 141.3L232.9 141.3L234.1 141.3L235.4 141.3L236.6 141.3L237.8 141.3L239.1 141.3L240.3 141.3L241.5 141.3L242.8 141.3L244 141.3L245.2 141.3L246.5 141.3L247.7 141.3L249 141.3L250.2 141.3L251.5 141.3L252.7 141.3L254 141.3L255.2 141.3L256.5 141.3L257.7 141.3L259 141.3L260.2 141.3L261.5 141.3L262.7 141.3ZM301.3 148.6L299.8 149.3L298.4 150.1L298.1 148.6L298.8 148.2L300 148.4ZM227.8 141.3L227.6 142.4L226.9 142.1L226.2 141.8L225.6 141.5L225.5 141.3L226.6 141.3ZM224 125.8L225.8 125.2L227.5 124.6L227.6 125.6L227.8 126.7L227.6 127.9L227.5 129.1L227.4 130.4L228.5 130.5L227.3 131.4L226.2 132.4L225.9 131.7L225.6 131.1L225.7 130L225.8 128.8L225.7 127.7L225.6 126.5L224.7 126.5L223.8 126.5L223.3 126L222.7 125.5L222.2 125L221.6 124.8L220.9 124.5L220.3 124.3L219.3 124.3L218.3 124.4L217.3 124.4L216.6 124L215.9 123.5L214.5 123.8L213.1 124L212.9 123.2L212.7 122.5L211.4 123L210.2 123.5L209.1 124.5L208 125.5L206.7 125.8L205.3 126.1L203.2 127.3L201.8 127.7L200.5 128.1L199.1 128.5L197.6 129.1L196 129.6L194.4 130.1L192.9 130.6L191.4 131.1L190 131.5L188.7 131.9L187.3 132.2L185.8 132.5L184.4 132.8L186.1 132.2L187.9 131.6L189.6 131L191.4 130.5L193.2 129.7L195.1 128.9L196.9 128.1L198.9 127.2L200.8 126.2L200 126.2L199.2 126.1L198.1 126.2L197 126.2L195.9 126.3L194.8 126.4L195.8 125.5L196.9 124.6L196 124.5L195.2 124.4L194.4 124.3L195 123.5L195.6 122.6L195.6 121.9L198.5 120.4L200.1 119.6L201.3 119.4L202.4 119.3L203.6 119.1L206.5 117.7L205.5 117.6L204.5 117.5L203.6 117.6L202.6 117.6L201.7 117.7L201.4 117.4L201.2 117.1L201 116.6L200.8 116.1L202 115.8L203.2 115.4L204.5 115.1L205.9 114.7L207.3 114.3L208.7 114L208.4 113.5L208.1 113.1L207.9 112.6L207.6 112.2L209.4 111.4L210.6 111.2L211.8 110.9L213.1 110.6L214.3 110.3L216 109.9L217.6 109.5L219.2 109.1L220.5 108.9L221.8 108.6L223 108.4L224.3 108.1L225 108.2L225.8 108.4L226.5 108.5L227.3 108.6L228 108.7L228.7 108.9L229.4 109.1L230 109.3L230.7 109.5L231.5 109.6L232.3 109.8L233.1 109.9L233.9 110L234.7 110.1L235.5 110.2L236.3 110.3L237.1 110.4L235.5 111.7L234 113L232.4 114.3L230.9 115.6L229.3 117L227.8 118.3L226.3 119.7L224.8 121.1L223.4 122.4L221.9 123.8L223 123.8L224.1 123.8L224 124.8ZM194.9 111.4L195.3 111.9L195.7 112.3L196.2 112.7L196.7 113L197.2 113.4L197.8 113.6L198.4 113.8L199.1 114L199.7 114.2L199.8 114.9L199.9 115.5L198.7 115.7L197.6 115.9L196.4 116.2L195.3 116.4L193.8 117.7L193 117.7L192.2 117.7L191.7 117.2L191.3 116.7L190.9 116.2L189.5 116.4L188.2 116.6L186.8 116.8L188.8 115.4L190.8 114.1L192.8 112.8ZM162.6 188.9L163.3 188.9L164.1 188.9L163 190.2ZM162.2 186.8L163.1 187.1L162.5 187.4ZM160.2 185.8L160.9 186.3L160.3 186.3ZM158.3 184.8L159 184.8L158.6 185.3ZM173.7 135.8L172.7 136L171.7 136.2L173.1 135.8L174.6 135.5L176.2 135.2L174.9 135.5ZM181.5 133.6L179.6 134.2L177.7 134.8L179.8 134.1ZM205 127.8L203.5 128.2L202 128.6L200.4 129L202 128.2L203.6 127.5L204.3 127.6ZM193 123.7L193.3 124.4L192.5 124.4L191.8 124.3L191 124.3L192 124ZM193.3 118.7L194.1 119L194.8 119.3L195.5 119.6L194.7 119.5L193.9 119.4L193.6 119Z" fill="#67000d" stroke="#404545" stroke-width="0.6" stroke-linejoin="round"/><path d="M228.5 130.5L227.4 130.4L227.5 129.1L227.6 127.9L227.8 126.7L227.6 125.6L227.5 124.6L225.8 125.2L224 125.8L224 124.8L224.1 123.8L223 123.8L221.9 123.8L223.4 122.4L224.8 121.1L226.3 119.7L227.8 118.3L229.3 117L230.9 115.6L232.4 114.3L234 113L235.5 111.7L237.1 110.4L237.9 110.6L238.7 110.9L239.4 111.1L240.2 111.3L241.5 111.1L242.8 110.9L244 110.8L245.1 110.7L246.3 110.6L247.5 110.5L249 110L250.6 109.6L252.2 109.1L252.6 109.5L253 109.9L253.5 110.3L253.9 110.8L254.8 110.9L255.6 111L256.4 111.1L257.2 111.2L258.1 111.3L258.8 111.6L259.6 111.9L260.4 112.1L261.1 112.4L261.9 112.7L262.9 112.8L263.9 112.9L264.8 113L265.9 112.8L267 112.7L268.1 112.6L269.2 112.4L270.3 112.3L271.1 112.4L271.9 112.5L272.8 112.6L273.6 112.7L274.5 112.9L275.4 113.1L276.3 113.1L277.3 113L278.2 113L279.2 113L280.5 112.7L281.8 112.4L280.9 112.2L280 112L281.5 110.6L282.1 110.8L282.6 111L283.2 111.3L284.8 109.9L286.4 108.6L288.4 107.4L288.8 107.8L289.1 108.3L288.9 109.4L288.6 110.5L289.4 110.7L290.1 110.9L290.8 111L291.1 111.7L291.3 112.4L292.9 111.7L294.5 111L296.1 110.2L296.7 110.6L297.3 110.9L297.9 111.3L297.6 112.3L297.2 113.4L295.7 114.3L294.1 115.2L293.1 115.1L292.2 114.9L291.2 114.8L290.2 115.5L291.3 115.6L292.3 115.6L293.3 115.6L294.4 115.7L294.6 116.6L294.8 117.5L295 118.4L294 118.9L293 119.4L291.7 119.7L290.4 120L289.1 120.3L288.8 119.3L288.5 118.4L289 117.2L289.6 116.1L288.8 116.7L287.2 117.4L285.6 118.1L284.2 118.8L282.8 119.4L281.5 120L280.2 120.7L278.8 121.3L277.4 122.4L275.9 123.5L275 124.8L274.1 126.1L274.3 127.3L274.6 128.5L275.5 128.6L276.4 128.7L277.4 128.8L278.2 129.3L279.1 129.8L280 130.4L280.9 131L281.7 131.6L282.8 131.6L283.8 131.7L284.9 131.7L284.2 133.1L283.5 134.5L283.9 135.3L284.2 136.1L284.8 136.7L285.5 137.3L287.1 135.8L287.7 134.2L288.4 132.7L290.1 131.7L291.8 130.7L292.7 129.4L293.6 128.1L293.3 127.2L292.9 126.4L293.9 125.3L294.9 124.3L295.1 123.2L295.4 122.1L296.3 120.7L297.3 120.8L298.4 120.8L299.5 120.8L300.6 120.9L301.2 121.4L301.9 121.9L302.6 122.4L303.5 122.9L304.3 123.4L303.6 124.6L302.8 125.8L303.5 126.1L304.2 126.5L304.9 126.8L306.3 125.9L307.6 125L308.8 124.4L310 123.7L310.3 124.9L310.6 126.1L310.5 127.3L310.6 128.4L310.6 129.6L311.2 130.2L311.8 130.8L312.5 131.4L313.4 132L314.4 132.7L315.1 133.7L315.7 134.7L315.5 136.2L314.2 137L313 137.7L311.7 138.2L310.3 138.8L308.9 139.4L307.7 139.3L306.5 139.3L305.2 139.2L304.1 139.3L303 139.3L301.9 139.4L300.8 139.4L299.3 140.2L297.7 141L295.9 142.6L294 144.2L295.7 143L297.2 142.2L298.8 141.5L299.8 141.5L300.8 141.5L301.9 141.6L302.9 141.6L302 142.6L301.2 143.7L301 144.7L300.8 145.8L301.7 146L302.6 146.3L303.5 146.6L304.8 146.6L305 146.5L305.2 147.2L304 147.6L302.7 148.1L301.5 148.5L299.9 149.3L298.4 150.1L298.1 148.6L299.4 147.9L300.7 147.2L299.6 147.3L298.5 147.4L297.3 147.9L297.2 147.5L296.7 146.6L297 145.4L297.4 144.3L296.9 143.9L295.8 143.8L294.4 145L293.5 146.2L292.3 147.2L291.5 147.7L290.5 147.7L289.4 147.7L288.4 147.7L287.4 147.7L286.9 147.8L285.6 148.9L284.2 149.9L283 150.1L281.9 150.3L280.7 150.5L280.5 151.2L278.9 151.8L277.4 152.4L275.9 153L275.2 152.8L274.6 152.5L276 150.9L276.5 149.7L277.1 148.4L277.6 147.2L277.1 146.7L276.6 146.2L275.9 145.3L275.6 144.6L274.8 144.1L274 143.5L273.2 143L272.5 142.4L271.4 142.7L270.3 143L269.8 142.7L268.6 142.5L267.5 142.2L266.4 141.9L265.3 141.8L264.2 141.8L264.3 140.7L264 141.3L262.7 141.3L261.5 141.3L260.2 141.3L259 141.3L257.7 141.3L256.5 141.3L255.2 141.3L254 141.3L252.7 141.3L251.5 141.3L250.2 141.3L249 141.3L247.7 141.3L246.5 141.3L245.2 141.3L244 141.3L242.8 141.3L241.5 141.3L240.3 141.3L239.1 141.3L237.8 141.3L236.6 141.3L235.4 141.3L234.1 141.3L232.9 141.3L231.7 141.3L230.4 141.3L229.2 141.3L228.9 140.8L228.5 139.9L228.2 139.1L227.3 138.8L226.3 138.4L225.4 138.1L225.7 137L226 135.8L225.8 134.8L225.7 133.8L225.9 133L226.2 132.4L227.3 131.4ZM227.5 142.3L226.5 141.9L225.6 141.5L225 140.4L224.5 139.4L224.1 138.4L224.8 138.6L225.6 138.8L226.5 139L227.4 139.2L227.6 140L227.9 140.8L227.6 142.4ZM222.3 136.6L222.4 135.4L222.5 134.3L222.6 133.1L223.6 133.4L222.9 135ZM263.4 111.7L262.7 111.4L262.1 111L261.4 110.6L261.4 109.9L261.5 109.3L262.6 108.1L261.7 108.2L260.8 108.3L260 108.4L259.1 108.4L258.6 108.2L258.1 107.9L257.6 107.6L257.1 107.3L258.6 106.3L260.2 105.2L261.8 104.2L262.9 104.1L264.1 104L265.2 103.8L266.1 103.9L266.9 104L267.8 104.1L268.7 104.2L268.8 104.9L268.9 105.7L270.2 105.4L271.2 105.4L272.1 105.4L273.1 105.4L274 105.3L275 105.3L275.9 105.3L276.8 105.3L277.8 105.3L278.6 105.2L279.3 105.2L280.1 105.1L280.5 105.7L280.9 106.3L281.3 106.8L280.7 107.9L280.1 108.9L279.4 109.9L277.8 110.8L276.2 111.6L275.3 111.5L274.5 111.4L273.6 111.4L272.8 111.3L271.5 111.5L270.3 111.7L269.1 111.8L267.9 112L267 111.9L266.1 111.9L265.2 111.8L264.3 111.8ZM281.2 106.6L282.1 105.4L283.4 105.1L284.7 104.9L285.9 104.6L286.5 105L287.2 105.3L287.8 105.7L286.4 106.6L285.1 107.5L284.2 107.4L283.3 107.2L282.6 107L281.9 106.8ZM291.4 107.2L290.4 107.2L289.5 107.1L288.6 107L289.1 105.9L289.7 104.8L290.7 104.8L291.7 104.8L292.6 104.8L293.6 104.9L294.5 104.9L293 106.1ZM311.1 108.7L311.8 109L312.5 109.3L313.2 109.5L313.5 110.3L313.8 111L314.3 111.7L314.9 112.3L315.4 113L316.2 113.4L317.1 113.8L317.5 114.2L317.9 114.7L316.7 115.4L315.6 116.2L314.4 116.9L313.2 117.5L312.1 118.1L312 119L311.8 119.8L309.9 121.3L309 121L308.1 120.6L307 120.4L306 120.3L304.9 120.1L304.2 119.6L303.6 119L302.7 118.6L301.9 118.3L301.1 118L300.4 117.7L299.7 117.5L299.1 117.2L299.9 116.4L301.1 116.1L302.2 115.7L303.4 115.4L304.5 115.1L305.9 113.7L305.3 113L304.7 112.3L303.7 112.4L302.7 112.6L301.7 112.7L301.6 111.3L300.7 111.2L299.7 111L298.8 110.9L298.3 110.4L297.9 109.9L297.1 109.8L296.2 109.7L295.4 109.6L294.6 109.5L294.2 108.7L293.9 107.9L294.4 106.7L294.9 105.5L296 105.4L297.1 105.3L298.2 105.2L299.3 105.1L300.2 105.2L301.2 105.2L302.2 105.2L303.1 105.2L304.1 105.3L305.4 104.9L306.2 105.1L307 105.4L307.8 105.7L306.9 105.9L305.9 106.2L306.3 106.3L307.1 106.5L307.9 106.8L308.8 107L309.4 107.4L309.9 107.8L310.5 108.3ZM297.7 104.1L296.9 104L296.1 104L295.2 103.9L294.4 103.8L293.6 103.8L292.7 103.7L292.6 103.5L291.6 103.8L290.9 103.6L290.2 103.3L292.2 102.4L291.9 101.8L292.9 101.8L293.8 101.7L294.7 101.7L295.7 101.6L296.6 101.6L297.6 101.5L298.5 101.5L299.5 101.4L300.3 101.5L299.9 101.4L300.3 100.2L301.5 99.8L302.7 99.5L303.9 99.1L303.5 98.8L303.1 99L302 99.1L301 99.3L299.9 99.4L299.3 99.2L298.6 99.1L298 98.9L297.4 98.8L297.6 98L297.9 97.3L299 97L300.2 96.8L301.3 96.5L302.4 96.2L303.2 96.2L303.9 96.2L304.7 96.1L305.4 96.1L306.2 96.1L306.8 95.9L307.8 95.8L308.8 95.7L309.8 95.6L310.8 95.4L311.8 95.3L312.8 95.2L313.8 95.1L314.8 95L315.7 95L316.6 94.9L317.5 94.9L318.4 94.9L319.3 94.8L320.2 94.8L321.1 94.8L322 94.8L322.9 94.7L323.8 94.7L324.5 94.8L325.3 94.8L326.1 94.9L326.8 94.9L327.6 95L328.4 95L329.1 95.1L329.9 95.1L330.7 95.2L329.6 95.4L328.6 95.6L327.5 95.8L326.5 96L325.4 96.3L324.4 96.6L323.4 96.8L322.3 97.1L321.3 97.3L320.3 97.5L319.3 97.7L318.3 97.9L317.3 98.1L316.1 98.4L314.9 98.7L313.7 99L312.5 99.3L312.7 99.7L313 100.2L311.8 100.6L310.6 101L309.4 101.4L308.6 101.5L307.8 101.5L306.9 101.6L306.1 101.6L306.5 102L307 102.3L307.4 102.6L305.8 103.8L304.8 103.9L303.8 103.9L302.8 103.9L301.8 104L300.8 104L299.8 104L298.7 104.1ZM275.1 101.2L273.7 101.6L274.7 101.5L275.7 101.5L276.7 101.4L277.7 101.4L278.7 101.4L279.7 101.3L280.3 101.4L281 101.6L281.7 101.7L282.4 101.8L282.6 102.4L282.9 103L281.9 103.2L280.8 103.5L279.7 103.6L278.6 103.7L277.5 103.8L276.3 104L275.2 104.1L274.3 104L273.5 103.9L272.6 103.8L271.8 103.7L271.3 103.3L270.8 103L270.3 102.6L271.8 102.1L273.2 101.7L272.3 101.9L271.3 102.2L270.6 102.1L269.8 101.9L269 101.8L268.2 101.7L267.5 101.6L268.7 101.3L269.9 101.1L271.1 100.8L272.3 100.6L273.5 100.3L274 100.6L274.6 100.9ZM290 101.4L290.2 102.1L290.4 102.7L289.1 103L287.8 103.3L287 103.3L286.2 103.2L285.4 103.1L284.6 103L283.9 103L285.7 101.8L286.8 101.7L287.8 101.6L288.9 101.5ZM288.8 100.1L288.3 99.7L287.9 99.4L287.4 99L288.4 98.9L289.4 98.7L290.4 98.5L290.7 98.9L291 99.3L291.3 99.6L290 99.8ZM306.9 145.8L306 146.1L305 146.5L304.9 146.1L306.7 144.5ZM316 145.1L315.2 143.8L314.1 144.2L313 144.6L312.5 143.5L311.5 143.5L310.5 143.5L309.5 143.5L308.5 143.5L310 142.1L309.2 141.9L310.5 140.5L311.8 139.1L313.3 138.1L314.8 137.2L314.6 138.5L314.4 139.9L315.5 140.3L316.6 140.8L316.9 141.8L317 142.6L317 143.5ZM303.1 140L304.1 140.4L305.2 140.8L306.2 141.1L305.3 140.8L304.2 140.4ZM302.2 113.5L301.1 113.6L300 113.7L300.7 112.7L301.5 113.1Z" fill="#d52a22" stroke="#404545" stroke-width="0.6" stroke-linejoin="round"/><path d="M226.5 167.7L226.3 168L227.4 168.5L228.5 169L229.6 169.5L230.7 170L232 170L233.4 170L234.7 170L235 169.1L236.1 169.1L237.3 169.1L237.8 170.3L238.4 171.5L239 172.7L239.8 173.2L240.5 173.7L242 172.4L243 172.5L243.9 172.6L244.1 173.7L244.3 174.9L245.1 176.2L245.3 177.8L246.3 178.3L247.3 178.8L247.8 178.7L247.2 180L246.6 181.4L246.3 182.5L246 183.7L245.8 184.8L246 185.8L246.3 186.8L246.9 188.3L247.6 189.7L248.6 190.6L249.7 191.4L250.9 191.2L252.1 190.9L253 190.8L254 190.7L254.8 189.7L255.6 188.7L255.9 187.7L256.2 186.6L257.5 186.3L258.8 186L259.8 185.9L260.8 185.8L261.2 186.6L260 188.1L259.6 189.2L259.3 190.2L258.5 190.9L257.2 191.8L257.1 192L255.8 192L254.5 192L254.4 192.9L253.8 192.9L254.9 194.1L254.9 194.8L254 194.8L253.2 194.8L252.3 196.1L252.1 197.4L251.3 196.4L250.5 195.4L249.2 194.6L247.7 195L246.2 195.4L244.9 195L243.5 194.5L242.6 194.1L241.6 193.6L240.7 193L239.8 192.4L238.9 191.8L237.8 191.3L236.8 190.7L235.9 190L235 189.2L234.2 187.8L235 186.8L235.1 186L234.5 184.6L234 183.2L233.1 181.7L232.3 180.2L231.6 179.8L230.8 179.3L230.8 178.4L230.8 177.5L230.1 176.5L229.4 175.5L228.8 174.4L228.2 173.2L228 171.8L227.8 170.4L226.9 169.9L225.9 169.3L225.4 170.6L225.4 171.5L225.5 172.4L226.1 173.5L226.7 174.5L226.9 175.8L227.2 177L228 178.6L228.2 179.6L228.4 180.6L228.8 181.6L228.9 182.6L229 183.7L228.3 182.9L227.4 181.7L226.6 180.6L226.6 179.6L226.6 178.6L225.9 178L225.1 177.5L224.3 176.5L223.5 175.5L224.8 174.9L224.4 173.8L224 172.7L223.8 171.5L223.6 170.3L223.4 169.1L223.1 168L224.2 167.9L225.4 167.8Z" fill="#f7896e" stroke="#404545" stroke-width="0.6" stroke-linejoin="round"/><path d="M309.9 273.4L308.9 272.8L307.8 272.2L306.5 271.1L305.4 270.8L304.2 270.5L304.6 269.3L304.9 268.1L305.2 266.9L306.5 266L307.7 265L308.9 263.9L308.5 262.9L307.4 262.9L307.5 261.6L307.6 260.3L306.7 260.2L305.9 260.2L305.5 258.8L305.2 257.5L304.2 257.4L303.2 257.3L302.2 257.2L302 255.9L301.8 254.6L302 253.6L302.1 252.2L302.2 250.8L301 249.7L301 248.7L301 247.7L299.6 247.1L298.3 246.4L297.9 245.1L297.6 243.8L296.5 243.5L295.5 243.2L294.2 242.4L293 241.7L291.7 241.2L290.5 240.7L290.4 239.8L290.2 238.9L289.7 238L289.1 237.1L288 237.8L286.8 238.4L285.7 239.1L284.4 239.1L283.6 239.1L282.8 239.1L282.6 237.9L282.5 236.6L281.4 236.4L280.3 236.1L279.2 235.8L278.3 234.6L277.5 233.4L278.6 231.7L279.4 230.5L280.2 229.3L281.2 228.8L282.2 228.4L283.2 228L283.3 226.5L283.4 224.9L283.6 223.4L283.7 221.9L283.3 221L283 220.1L283.8 219.3L283.3 218.3L284.6 218.2L285.9 218.1L287.2 218L287.4 219.1L288.5 219.5L289.5 219.8L290.5 219.6L291.6 219.5L292.1 218.5L292.5 217.5L291.5 217.3L290.5 217.2L291.1 215.8L291.7 214.4L292.9 214.7L293.7 214.5L294.6 214.2L295.6 213.4L296.5 212.6L297.6 214.2L297.6 215.5L297.7 216.7L297.7 218L299.1 219.1L300.2 218.8L301.3 218.5L302.2 218.2L303.2 218L304.6 217.8L305.9 217.7L307.1 217.5L308.2 217.3L308.9 215.8L309.6 214.2L309.7 214.1L310.1 215.1L310.4 216.2L311.1 217.1L311.8 218L311.5 219.1L311.3 220.3L311.8 221.1L312.9 221.6L314 222.1L314.3 223.1L315.6 222.9L316.9 222.7L318 223.6L319 224.4L320.1 225.2L321.4 225.3L322.7 225.5L324.1 225.8L325.6 225.9L327 226L328.5 227.1L329.6 228L330.7 228.9L331.9 229.3L333.2 229.6L333.4 231.2L333.6 232.7L333.8 234.3L333.2 235.6L332.7 237L331.8 238L330.9 239.1L329.9 240.7L328.8 242.3L328.5 243.8L328.2 245.3L328.2 246.6L328.2 247.9L328.2 249.1L328.1 250.4L327.7 251.7L327.3 253L326.9 254.3L326.5 255.6L326.1 256.9L324.8 258.5L323.9 258.6L323.1 258.7L322.2 258.9L321.3 259.2L320.1 259.7L318.8 260.3L317.9 261.1L316.9 262L316 262.8L316.1 263.9L316.2 265.1L316.3 266.2L315.6 267.6L315 269L314.3 270.4L313.6 271.8L312.9 272.7L312.3 273.6L311.8 274.6L311.2 275.7L310.6 274.5Z" fill="#f7896e" stroke="#404545" stroke-width="0.6" stroke-linejoin="round"/><path d="M294.3 304.5L292.9 303.3L292.5 301.9L292.2 300.6L292.2 299.6L292.3 298.5L292 297.3L291.7 296.1L291.4 294.9L291.1 293.7L290.6 292.5L290 291.3L289.5 289.7L289 288.1L288.9 286.8L288.8 285.6L288.6 284L288.4 282.4L288.5 281.2L288.6 279.9L288.4 278.3L288.2 276.7L288 275.4L287.8 274.2L287.2 273L286.6 271.8L286.8 270.1L287 268.5L287.6 266.9L288.2 265.2L288 264L287.8 262.8L288.5 261.5L289.3 260.3L289.5 258.7L289.2 258.4L290 257.1L291.1 257.1L292.2 257.2L293.3 258.4L294.1 257.7L295 257.1L295.6 257.5L296.9 258.8L298.1 260L299.6 261L301.1 262L302.2 262.3L303.2 262.6L302.7 264.2L302.2 265.7L303.2 265.8L304.2 265.9L305.3 266L306.3 264.5L307.4 262.9L308.5 262.9L308.9 263.9L307.7 265L306.5 266L305.2 266.9L304.9 268.1L304.6 269.3L304.2 270.5L304.1 271.9L304 273.4L304.1 274.9L304.2 276.5L304.8 277.2L304.3 277.2L305.3 278L306.3 278.8L307.3 280.4L307 281.8L306.7 283.2L305.5 283.8L304.3 284.3L303.1 284.4L301.9 284.4L300.6 284.5L301 285.4L301.3 286.3L301.1 287.2L300.9 288.1L299.9 288.1L298.9 288.1L298 288.1L298.6 289.1L299.2 290.2L300.4 290.5L299.7 291.1L299.1 291.8L299 293L298.9 294.2L298 295.1L297.1 296L298.2 297.1L299.1 297.5L300.1 297.9L299.6 299.1L299.2 300.2L298.8 301.4L298.3 302.8L298.5 303.9L298.7 305L299.8 306.2L299.6 306.2L298.5 306L297.4 305.8L296.3 305.6L295.3 305.1ZM302.5 308.6L303.8 309.2L305.1 309.8L304.5 310.1L303.9 310.4L302.8 310.6L301.6 310.8L301.5 310.7L300.9 309.4L300.3 308L299.7 306.6L301.1 307.6Z" fill="#f7896e" stroke="#404545" stroke-width="0.6" stroke-linejoin="round"/><path d="M411.9 267.5L411.9 266L412 264.6L412 263.1L412.1 261.6L412.6 263.3L413.1 264.9L414 264.2L414.8 263.6L416.3 262.4L417.4 262.6L418.6 262.8L419.8 262.9L420.8 262.2L421.8 261.5L421.9 260.6L422 259.7L423.2 258.9L424.4 258.1L425.5 257.4L426.9 257.5L428.2 257.7L428.5 258.8L428.7 260L429 261.1L428.9 262.3L428.9 263.4L430 264.9L429.6 266.3L429.1 267.7L428 268.8L427 269.9L425.8 271.2L424.7 272.6L423.5 273.8L422.3 275L421.2 275.6L420.1 276.1L419 276.7L417.7 276.7L416.5 276.7L415.3 276.8L414 276.8L412.6 277.4L411.2 278L410.2 277.6L409.2 277.2L409.1 276.5L408.9 275.6L408.7 274.7L409.1 273.4L408.6 272.2L408.1 270.9L407.5 269.4L406.9 267.8L408.2 268L409.3 268.2L410.4 268.3ZM427.5 263.3L427.1 264.1L427.6 265.7L428.9 264.9L428.9 263.4ZM423 271.3L424.3 270.5L424.8 269L424 268.5L423.2 268L422.3 268.7L421.5 269.5L421.9 270.6Z" fill="#f7896e" stroke="#404545" stroke-width="0.6" stroke-linejoin="round"/><path d="M409.6 131.6L410.6 131.7L411.6 131.9L411.6 132.8L410.7 132.8L409.7 132.8L408.7 132.8L407.8 132.7L408.1 132L408.7 131.4L409.3 130.8ZM570.2 155.8L569.5 154.8L569.6 153.8L570.2 153.7L570.8 153.5L571.8 154.9L572.7 155.8L571.4 155.8ZM555.5 151.9L555.7 151.1L555.5 150.3L554.5 149L553.6 147.8L554.3 147.2L555.2 147.4L556.1 147.5L556.2 146.9L555.8 145.3L555.3 143.7L554.7 142.4L553.8 142.6L552.8 142.8L551.7 143.1L550.7 143.4L549.8 142.4L549 141.5L548 141.1L546.9 140.7L545.3 140.2L543.7 139.7L542.1 138.2L540.3 136.8L538.6 135.3L537.3 134.9L536.1 134.6L534.8 134.2L534 134.7L533.1 135.2L533.2 136.4L533.2 137.7L533.3 138.6L533.4 139.6L532.8 140L532.2 140.5L531.3 140.2L530.3 139.9L529.2 139.7L528.1 139.4L527 139.2L526.3 139.5L525.6 139.7L524.9 140.1L524.2 140.6L523.5 141L522.5 140.9L521.5 140.9L520.6 140.8L519.1 140L517.5 139.2L516.4 139.2L515.2 139.2L514 139.2L512.9 139.1L511.7 138.9L510.4 137.3L509.1 137.1L507.9 137L506.6 136.8L505.4 136.6L505.7 137.8L505.9 139L506.2 140.2L504.6 139.7L503.1 139.2L501.6 138.8L500.7 138.7L499.8 138.6L498.9 138.4L498.2 138.9L497.5 139.3L496.8 139.7L496 140.1L495.3 140.6L494.6 141L494 141L492.9 140L491.7 139.9L490.5 139.7L489.1 138.9L487.7 138.1L486.6 138.3L485.5 138.4L484.6 138.4L483.7 138.4L482.2 137.1L480.7 135.8L479.2 134.5L478.1 134L477 133.4L476.2 133.6L475.5 133.9L474.7 134.1L473.6 134.2L472.5 133.9L471.5 133.6L470.5 133.3L469.3 132.6L468.1 131.9L466.9 131.3L466 131.6L465.2 131.9L464.3 132.2L463.5 132.5L462.4 132.5L461.3 132.5L460.2 132.5L459.4 133.1L458.6 133.6L458.8 135.2L458.1 136.6L459.3 137.1L460.5 137.7L460.4 138.4L459.4 138.7L458.4 138.9L457.4 138.8L456.3 138.6L455.3 138.3L454.2 138L453.3 138.1L452.5 138.3L451.2 137.9L450 137.4L448.7 137L447.8 137.1L446.9 137.2L446.2 137.7L445.5 138.2L444.8 138.8L444.1 138.8L443.4 139.2L442.6 139.7L443.2 141L442.9 142.2L443.8 142.9L444.9 143.4L446 143.8L446.9 145.4L446.3 145.7L445.6 146.1L445.1 147.3L444.6 148.5L445.2 149.3L446.2 150.9L447 151.7L448.2 152.6L448 152.8L447.2 153.8L446.2 153.2L445.2 152.7L443.9 151.7L442.7 151.6L441.6 151.5L440.3 151.1L438.9 150.6L437.7 150.4L436.5 150.3L435.8 149.9L434.8 149.3L433.7 148.6L433 148.2L431.7 147.6L431.7 147.4L431.5 147L432.2 146.1L433.4 145.3L434.1 144.3L432.8 144.5L432.7 144.5L432.8 144.3L433.6 143.8L434.5 143.2L434.6 142.1L434.5 141.2L434.4 140.3L433.5 140.2L432.6 140L431.6 139.9L430.8 139.6L429.9 139.2L429 138.7L428 138.1L426.6 137L425.6 136L424.4 136.2L423.2 136.4L423.6 135.5L424 134.5L423.2 134.2L422.4 133.9L422.6 133.1L421.2 132.2L421.1 131L419.9 130.7L418.8 130.4L417.6 130L417.2 129.2L416.9 128.4L416.3 127.3L416.3 125.9L416.4 125.1L416.4 125L417.5 124.4L418.2 124.4L418.9 124.4L418.2 124.2L417.4 124L417 123.2L416.2 123.4L417 122.8L417.5 122.2L418 121.6L418.6 120.8L419.3 120L418.4 119.6L417.4 119.1L417.7 118.1L416.6 117.2L416.8 115.9L416.2 115.1L415.7 114.2L416 113.1L415.2 113L414.1 112L414.3 111.2L414.8 111L415.3 110.8L416 110.2L416.8 110.4L417.7 110.6L418.5 110.8L419.4 110.9L420.4 111L421.3 111.1L422.3 111.2L423.3 111.5L424.3 111.9L425.3 112.3L426.4 112.6L427.6 113L428.4 114.4L427.8 114.7L427.3 115.1L426.2 115.2L425.2 115.4L424 115.2L422.9 115L421.8 114.8L420.9 114.7L420.1 114.7L419.4 114.3L418.7 113.9L419.5 114.7L420.4 115.5L421.2 116.3L422 117L422.9 117.6L423.8 118.1L425 118.2L426.1 118.4L425.2 117.2L426.3 117.4L427.5 117.5L428.6 117.6L427.6 116.2L428.5 115.6L429.4 114.9L430.2 115.1L431.1 115.2L432 115.5L431.8 114.1L430.7 113L429.7 111.9L430.7 112L431.7 112.2L432.7 112.4L433 113.1L434.1 113.2L435.2 113.3L436.1 113L437.1 112.7L438 112.5L439 112.2L439.9 112L440.6 111.7L441.3 111.4L442.2 111.7L443.1 112L444.1 111.8L445 111.6L446 111.4L447 111.3L446.9 110.2L447.8 110.3L448.8 110.5L449.7 110.6L450.9 110.8L452 110.9L453.3 111.3L454.6 111.7L455.9 112.1L457 112.7L455.9 112L454.7 111.3L453.6 110.6L453.7 109.9L452.5 108.6L452.8 107.7L453.1 106.8L453.4 105.9L454.1 105.7L454.7 105.5L455.8 105.9L456.9 106.2L457.6 107.4L458.3 108.6L458.7 109.6L459.1 110.6L460.4 111.4L461.8 112.3L461.9 113.4L462.1 114.5L462.7 114.2L463.3 113.8L463.1 112.9L463 112L461.2 110.6L460 109.3L458.9 107.9L459.4 107.2L459.9 106.6L461 106.7L462.1 106.8L463.1 106.8L464.1 106.7L464.1 105.9L464.1 105.1L464.9 105.2L465.6 105.2L466.4 105.3L467.2 105.2L467.9 105.1L468.7 105L469.5 104.9L469.1 104.2L468.7 103.5L469.4 103.2L470.1 103L470.8 102.7L471.6 102.5L472.4 102.4L473.2 102.2L474 102.1L474.8 101.9L475.6 101.8L476.3 101.6L477.1 101.4L477.8 101.2L478.5 101L479.2 100.8L479.7 100.6L480.2 100.4L480.7 100.2L481.2 100L482.1 100.1L483 100.3L483.9 100.5L485.1 100.8L486.3 101.2L487.3 101.2L488.3 101.3L489.3 101.3L490.5 101.6L491.7 102L493 102.3L494.2 103.5L495.4 104.6L494.6 104.8L493.7 104.9L492.9 105L493.9 105L494.9 105L495.9 105L496.8 105L497.8 105L498.8 105.1L499.7 105.1L500.7 105.2L501.6 105.3L502.7 105.4L503.7 105.5L504.8 105.7L505.8 105.8L506.9 105.9L507.6 105.8L508.3 105.7L509 105.5L509.7 105.4L511.3 106L512.8 106.6L514.4 107.2L516.7 108.6L517.8 108.7L518.9 108.7L519.6 108.4L520.2 108L521.1 108L522 107.9L522.9 107.8L523.4 107.5L523.9 107.2L524.3 107L525.1 106.8L525.8 106.5L526.4 106.3L527.6 106.5L528.8 106.6L530 106.7L531.2 106.8L532.6 107.1L534 107.4L535.4 107.6L536.8 107.9L538.2 108.2L539.6 108.4L541 108.7L542 108.7L543 108.7L543.9 108.6L544.9 108.6L546 108.7L547 108.8L548.1 108.9L549.7 109.7L551.3 110.5L552.1 110.5L553 110.4L553.9 110.4L554.7 110.3L555.8 110.4L556.9 110.4L558.1 110.5L558.8 110.3L559.4 110L560.1 109.8L561.4 109.9L562.6 110.1L563.9 110.2L565 110.3L566.1 110.3L567.2 110.3L568.7 110.6L570.2 110.9L571.6 111.2L573.1 111.4L575.2 112.8L577.2 114.1L579.2 115.4L581.2 116.8L580.9 117.2L580.6 117.5L579.3 117.4L581.3 118.4L583.4 119.5L585.4 120.6L584.6 120.7L583.8 120.8L583 120.9L582.4 121.1L581.8 121.4L581.1 121.6L581.1 122.2L581 122.8L580.8 123.5L580.6 124.3L579.3 124L578 123.8L576.8 123.5L575.8 123.7L574.8 123.8L574.3 124.1L573.8 124.4L572.8 124.6L573.3 125.7L573.7 126.8L576.1 127.9L577 129L577.9 130L578.2 131.4L577.9 132L577.7 132.7L578 133.8L578.3 135L578.5 135.9L578.8 136.9L579 138.3L577.5 137.1L575.9 135.8L574.5 134.4L573 133L571.6 131.6L570.7 130.2L569.8 128.8L569.3 127.6L569.6 127.1L569.9 126.5L569.9 125.6L569.9 124.6L569.8 123.7L567.8 122.9L565.8 122.1L564.1 121.6L563.1 121.7L562.1 121.8L561.1 121.9L561.5 123.2L561.9 124.6L561.3 125.1L560.7 125.6L559.6 125.3L558.6 125L557.8 125.1L557.1 125.2L556.3 125.3L555.3 125.3L554.2 125.3L553.2 125.2L552.1 125.2L551.1 125.2L550.1 125.3L549.7 125.9L549.4 126.6L549 127.3L548.9 128.1L548.7 128.9L548.5 129.7L549.2 130.9L549.9 132.2L550.5 133.4L551.6 133.3L552.7 133.1L554.4 134L556.2 134.8L558.3 136.2L558.9 137.4L559.5 138.6L560 139.7L560.5 140.5L561 141.4L561.2 142.7L561.4 144L561.6 145.3L561.4 146.5L561.2 147.7L560.9 148.9L560.5 150.1L559.7 150.5L559 150.8L558.3 151.2L557.4 151L556.6 150.7L556.2 151.4L555.8 152ZM568.9 108.9L567.9 108.7L566.9 108.6L567 108.2L567.1 107.8ZM201.4 117.3L201.2 117.1L201 116.6L200.8 116.1L201.8 115.8L201.6 116.6ZM194.9 111.4L195.3 111.9L195.7 112.3L196.2 112.7L196.7 113L197.2 113.4L197.8 113.6L198.4 113.8L199.1 114L199.7 114.2L199.8 114.9L199.9 115.5L198.7 115.7L197.6 115.9L196.4 116.2L195.3 116.4L193.8 117.7L193 117.7L192.2 117.7L191.7 117.2L191.3 116.7L190.9 116.2L189.5 116.4L188.2 116.6L186.8 116.8L188.8 115.4L190.8 114.1L192.8 112.8ZM193.3 118.7L194.1 119L194.8 119.3L195.5 119.6L194.7 119.5L193.9 119.4L193.6 119ZM439.8 106.6L441.5 107.8L443.2 109.1L442.3 109.1L441.3 109.1L440.4 109L439.5 109L438.5 109L437.5 108.4L436.5 107.9L437.1 107.6L437.8 107.4L438.5 107.1L439.2 106.8L439.8 106.5ZM447.4 102.3L446.7 102.6L446 102.9L445.3 103.2L444.6 103.5L443.9 103.8L443.2 104.1L442.5 104.4L441.9 105L441.3 105.6L440.6 106.2L439.8 106.5L439.8 105.2L439.8 104L440.5 103.6L441.2 103.1L441.9 102.7L442.6 102.3L443.3 102.1L444.1 102L444.9 101.8L445.6 101.6L446.4 101.5L447.2 101.3L447.9 101.1L448.7 100.9L448.2 101.4L447.8 101.9ZM471.9 96L473.2 96.4L474.5 96.7L475.8 97.1L477.2 97.5L478.5 97.9L477.9 98L477.2 98.2L476.6 98.4L475.9 98.6L475.3 98.8L474.6 99L472.9 98.4L471.3 97.9L469.7 97.3L470.1 97L470.6 96.8L471 96.5L471.5 96.3ZM434.5 95.4L435.5 95.5L436.4 95.7L437.4 95.8L438.4 95.9L439.4 96.1L440.4 96.2L439.8 96.4L439 96.6L438.3 96.9L437.6 97.1L436.8 97.1L435.9 97.1L435 97.2L434.1 97.2L433.3 97.2L432.4 97.2L431.5 97.3L430.6 97.3L429.7 97.2L428.7 97.1L427.7 97L426.8 96.9L425.8 96.8L426.6 96.6L427.3 96.4L428.1 96.2L428.9 96.1L429.7 96L430.5 95.9L431.3 95.8L432.1 95.7L432.9 95.6L433.7 95.5ZM574.5 150.3L573.8 150.6L573.1 150.9L572.9 151.8L572.7 152.7L571.8 152.7L570.9 152.8L570.1 152.8L569.4 153.1L568.8 153.3L568.5 152L567.5 151.5L568.2 150.6L568.2 149.6L567.7 148.6L567.2 147.7L567.1 146.9L568.8 147.8L570.4 148.8L571.6 148.8L572.8 148.8ZM568 145.3L567.3 145.7L566.6 146.1L565.5 144.6L564.4 143.2L563.2 141.8L562.5 140.6L561.7 139.3L560.9 138.1L559.9 136.8L558.9 135.5L557.9 134.3L556.9 133L558.5 134.4L560.1 135.8L561.3 137L562.5 138.1L564.5 139.7L566.5 141.3L565.5 141.1L564.4 141L565.3 142.3L566.2 143.7ZM523.4 104.2L522.4 104.2L521.5 104.1L520.5 104.1L519.5 104L518.6 104L518.6 103.4L518.5 102.9L518.4 102.3L519.5 102.4L520.5 102.4L521.5 102.4L522.5 102.5L523.6 102.5L524.6 102.5L525.6 102.6L526.6 102.6L527.7 102.7L528.7 102.7L528.5 103.1L528.2 103.6L527.4 103.7L526.6 103.8L525.8 103.9L525 104L524.2 104.1Z" fill="#bd161b" stroke="#404545" stroke-width="0.6" stroke-linejoin="round"/><path d="M421.3 147.2L420.4 146.9L421.2 146.1L421.9 145.8L422.6 145.4L422.3 144.8L421.7 143.8L421.1 143L419.8 142.6L418.8 142.1L417.7 142.6L416.8 143L415.9 143L415.1 143L414.1 142.9L413.1 142.9L412.1 142.2L412.5 141.1L412.9 141.3L412.4 140.5L413.4 139.1L414 138.4L413.2 137.3L414.3 136.7L415.2 136.7L416.1 136.7L417.3 137L418.4 137.2L419.4 137.3L420.3 137.5L421.1 137.6L421.9 137.7L422.5 137L423.2 136.4L424.4 136.2L425.6 136L426.6 137L428 138.1L429 138.7L429.9 139.2L430.8 139.6L431.6 139.9L432.6 140L433.5 140.2L434.4 140.3L434.5 141.2L434.6 142.1L434.5 143.2L433.6 143.8L432.8 144.3L432.7 144.5L432 144.7L431.4 145L430.3 145.3L429.3 145.6L428.8 146.4L429.6 147.2L430.3 147.1L431.1 147L429.9 147.7L429.2 148.2L428.4 148.6L427.4 148.3L427.2 147.4L425.9 147L426.6 146.5L427.2 145.9L426 145.6L424.8 145.3L424.1 145.3L423.4 145.3L422.5 146.4L422.4 147.4Z" fill="#d8262a" stroke="#404545" stroke-width="0.6" stroke-linejoin="round"/><path d="M412.6 136.2L412.9 135.6L413.2 134.7L412.6 133.6L413.2 133.4L414 133.2L414.9 133L415.1 132L416.2 131.4L415.9 130.8L416.8 130.4L417.6 130L418.8 130.4L419.9 130.7L421.1 131L421.2 132.2L422.6 133.1L422.4 133.9L423.2 134.2L424 134.5L423.6 135.5L423.2 136.4L422.5 137L421.9 137.7L421.1 137.6L420.3 137.5L419.4 137.3L418.4 137.2L417.3 137L416.1 136.7L415.2 136.7L414.3 136.7L413.2 137.3Z" fill="#f9a58f" stroke="#404545" stroke-width="0.6" stroke-linejoin="round"/><path d="M410.2 129.7L411.4 129.8L412.6 129.8L413.5 130L414.4 130.1L415.2 130.5L415.9 130.8L416.2 131.4L415.1 132L414.9 133L414 133.2L413.2 133.4L412.6 133.6L411.6 132.8L411.6 131.9L410.6 131.7L409.6 131.6L409.3 130.8L409.2 130.3Z" fill="#f7896e" stroke="#404545" stroke-width="0.6" stroke-linejoin="round"/><path d="M410 115.5L409.6 114.7L409.2 113.8L409.2 112.8L408.4 112.5L407.7 112.1L406.6 111.7L405.6 111.2L406 111L407.1 111.4L408.3 111.9L409.3 111.9L410.4 111.9L410.9 110.6L411.5 110.3L412 109.9L412.6 110L413.3 110.1L414.3 111.2L414.1 112L415.2 113L416 113.1L415.7 114.2L416.2 115.1L416.8 115.9L416.6 117.2L417.7 118.1L417.4 119.1L418.4 119.6L419.3 120L418.6 120.8L418 121.6L417.5 122.2L417 122.8L416.2 123.4L415.6 123.5L415 123.5L413.9 123.8L412.8 124.1L411.7 124.3L410.6 124.6L409.5 123.6L408.4 122.8L408.3 121.7L408.2 120.6L408.2 119.7L409.1 119L410 118.4L410.5 117.8L411 117.2L411.9 116.9L411.1 116.4L410.3 115.8ZM415.9 125L415 125L414.2 125L413.3 125L414 125L414.7 124.9L415.3 124.9L415.9 125Z" fill="#f7896e" stroke="#404545" stroke-width="0.6" stroke-linejoin="round"/><path d="M397.6 124.4L398.3 123.5L397.9 122.8L398.7 122.2L397.7 121.3L397.8 119.8L398.6 118.8L399.4 117.8L399.1 117.5L399.7 116.5L400.3 115.5L400.7 114.5L401.1 113.4L402 112.8L402.9 112.1L403.6 112L404.3 111.6L405 111.2L405.6 111.2L406.6 111.7L407.7 112.1L408.4 112.5L409.2 112.8L409.2 113.8L409.6 114.7L410 115.5L410.3 115.8L409.2 115.9L408.1 116.1L407.3 117.2L406.5 118.7L405.6 119.3L404.7 119.8L404.1 120.3L403.5 120.7L403.7 121.8L403.9 122.8L403.7 123.4L404.5 123.7L405.3 124L405.9 125.3L405.2 125.7L404.4 126.1L403.4 126.4L403.4 127.4L403.5 128.4L403.4 129.4L402.6 130L402 130.2L401.3 130.4L401.1 131.3L400.3 131.3L399.5 131.3L399.5 131L399.2 130.3L398.9 129.6L398.4 128.7L398 127.8L397.5 126.7L396.9 125.6ZM398.9 130.4L399.1 130.4L399 130.6ZM395.8 128.1L395.9 127.9L396.5 127.7L396.4 128.5ZM405.4 128.4L406.2 127.5L406.1 129Z" fill="#d42a26" stroke="#404545" stroke-width="0.6" stroke-linejoin="round"/><path d="M395.3 132.2L395.9 132.2L396.4 132.8L397.2 133.4L398 133.3L398.7 133.1L399.5 132.9L400.3 132.7L401.3 133.5L401.3 133.6L401.6 134.5L401.9 135.6L402.1 136.4L402.4 138L402.7 138.1L401.8 138.1L400.9 138.4L400.1 138.6L399.1 139.2L399.7 140.2L400.4 140.8L401.4 141.6L400.9 141.9L400.2 142.6L400.6 143.7L399.5 143.4L398.7 143.5L397.9 143.7L397 144L396.2 143.7L394.9 143.2L393.7 143.5L393.6 142.7L394.3 141.4L393.2 140.9L392 140.5L392.2 140L391.6 139.6L391.9 138.9L391.5 138.4L391.4 138.1L391.7 137.4L392.4 136.7L392.7 135.6L392.8 134.7L392.9 134.5L392.7 134.2L393.1 134.1L394.1 134.1L394.6 133.6L394.8 132.8L394.4 132.1Z" fill="#c9181e" stroke="#404545" stroke-width="0.6" stroke-linejoin="round"/><path d="M305.9 217.7L306 216.4L306.1 215.2L306.1 214.1L306.2 212.9L306.2 211.8L306.3 211.8L307.5 212.4L308.6 213.1L309.7 214.1L309.8 214.1L309.6 214.2L308.9 215.8L308.2 217.3L307.1 217.5ZM390.1 140L391.3 140.5L392 140.5L393.2 140.9L394.3 141.4L393.6 142.7L393.7 143.5L392.9 143.7L391.8 144.6L391.8 145.8L392.7 145.4L393 146.2L392.5 147.5L393.1 149L393.8 149.6L393.8 149.7L393.5 149.8L392.6 150.7L391.8 150.6L391 150.4L390.1 150.3L389.2 150.1L388 151.4L388.1 151.8L387.1 151.7L386.2 151.7L384.9 151.2L384 151.1L383.1 151.1L382.4 150.7L381.6 150.3L381.2 150.2L382 150.1L382.2 149.2L382.4 148.3L382.6 146.7L382.5 145.8L381.8 145.1L381.2 144.3L380.4 143.8L379.5 143.4L378.4 143L378 142.2L378.8 141.9L379.6 141.6L380.5 141.7L381.5 141.8L382 141.8L381.6 140.2L382.5 140.7L383.3 140.6L384.1 140.5L385.4 139.9L386 139.1L386.3 138.2L387.2 138L388 138.6L389.3 139.2ZM396.2 150.9L396.5 151.1L396.3 152.3L396.1 153.5L395.3 152.7L395.8 151.8Z" fill="#a50f15" stroke="#404545" stroke-width="0.6" stroke-linejoin="round"/><path d="M386.7 138.3L386.2 138.4L386.3 138.2L386.7 138.1ZM374.3 132.9L374.1 132.7L374.3 132.5L374.4 131.6L375.1 131.3L375.8 131.4L376.5 131.6L377.1 132.4L376.7 133.6L376.5 134.5L376.4 135.4L376.2 136.2L375.1 136.5L374.1 136.8L374.2 135.5L374.2 134.2ZM312 304.5L312.6 305.5L311.5 305.6L310.5 305.8L309.4 306L307.9 304.5L308.9 304.5L310 304.5L311 304.5ZM378.4 134.5L379.3 134.5L380.3 134.4L380.4 133.4L379.9 132.7L379.8 132L378.8 132.1L377.8 132.1L378.1 130.8L377.1 131.4L377.2 130.5L377.2 129.6L377.5 128.1L377.8 127.2L378.2 126.4L379.1 126.4L380 126.3L380.4 126.6L379.7 127.3L379 128.1L379.9 127.8L380.9 127.9L381.9 128.1L381.6 128.6L380.9 129.9L380.4 130.4L381.6 130.7L382.3 131.9L383.1 132.6L383.9 133.3L384.1 134.1L384.4 135.2L385.2 135.1L386.2 135.6L386.1 136.6L385 137.2L385.8 137.5L385.7 137.9L385 138.2L384.3 138.5L383.3 138.5L382.4 138.5L381.7 138.7L380.9 138.9L379.9 139L378.9 139.2L378.2 139.5L377.5 139.8L376.9 139.6L377.6 138.9L378.3 138.1L378.8 137.8L379.5 137.7L380.3 137.7L380 137.4L379 137.2L378.2 137L377.5 136.7L378.1 136.4L378.8 136.1L378.2 135.3Z" fill="#cf1d20" stroke="#404545" stroke-width="0.6" stroke-linejoin="round"/><path d="M381.6 150.3L382.4 150.7L383.1 151.1L384 151.1L384.9 151.2L386.2 151.7L387.1 151.7L388.1 151.8L388.2 152.7L386.9 153.5L386.1 154.1L385.2 154.6L384.4 155.6L383.5 156.7L384.3 157.9L383.3 158.7L382.7 159.7L381.8 160.4L381 161.1L380 161.1L379 161.1L378.1 161.1L377.2 161.7L376.4 162.3L375.5 161.5L374.6 160.3L374 160.4L374 160.3L373.9 159.8L374.2 158.7L374.6 157.4L374 156.4L374.8 155.8L374.9 154.1L375.8 152.7L374.5 152.5L373.2 152.4L372.3 152.7L372.3 152.4L371.8 151.1L373 150.3L373.7 149.6L374.7 149.7L375.6 149.9L376.6 150L377.8 150.1L379 150.2L380.2 150.4L380.9 150.3L381.7 150.2Z" fill="#ef4a36" stroke="#404545" stroke-width="0.6" stroke-linejoin="round"/><path d="M389.5 137.6L390.5 137.7L391.2 137.9L391.1 138.5L391.5 138.4L391.9 138.9L391.6 139.4L391.2 139.6L391.3 140.5L390.1 140L389.3 139.2L388 138.6L387.2 138L388.2 137.5L388.8 137.5Z" fill="#e8392c" stroke="#404545" stroke-width="0.6" stroke-linejoin="round"/><path d="M392.9 134.5L392.8 134.7L392.7 135.6L392.4 136.7L391.7 137.4L391.4 138.1L391.5 138.4L391.1 138.5L391.2 137.9L390.5 137.7L389.5 137.6L388.8 137.5L388.2 137.5L389.2 136.6L389.7 135.8L389.8 135.1L390.7 134.5L391.6 134.5L392.4 134.4L392.8 134.2Z" fill="#f7896e" stroke="#404545" stroke-width="0.6" stroke-linejoin="round"/><path d="M391.8 144.6L392.9 143.7L393.7 143.5L394.9 143.2L396.2 143.7L396.1 144.4L397.4 144.7L397 145.8L396.3 145.9L395.6 146.1L394.8 145.8L393.9 146L393 146.2L391.8 145.8Z" fill="#f26a50" stroke="#404545" stroke-width="0.6" stroke-linejoin="round"/><path d="M393.1 149L392.5 147.5L393 146.2L393.9 146L394.8 145.8L395.6 146.1L396.3 145.9L397 145.8L397.4 144.7L398.5 144.5L399.6 144.3L400.6 144.8L401.6 145.3L401.2 145.8L401.7 146.6L401.6 146.7L400.8 146.8L399.9 147L400.2 147.8L400.4 149.2L401.6 149.9L402.1 150.9L402.6 151.8L403.9 152.5L404.6 152.6L405.3 152.7L405 153.3L406.4 154L407.1 154.3L407.8 154.7L408.6 155.6L408.4 156.1L407.6 155.5L406.8 154.9L406.1 155.8L406.9 157.4L406.1 158.4L405.5 159L405 158.8L405.1 157.5L404.9 156.7L404.6 155.8L403.8 155.3L402.9 154.5L402 154.1L401.2 153.8L400.1 152.9L398.7 151.9L397.7 151L397.4 150L396.7 149.1L395.6 148.6L394.4 149.5L393.9 149.6L393.8 149.6ZM402.1 158.7L403.1 158.6L404 158.6L405 158.5L404.7 159.9L404.4 161.2L403.2 160.5L401.9 159.9L400.7 159.2L401.4 158.9ZM394.9 154.1L395.8 154L396.7 153.8L396.9 155.4L397.1 156.9L396.2 157.1L395.2 157.4L395 155.8Z" fill="#f7896e" stroke="#404545" stroke-width="0.6" stroke-linejoin="round"/><path d="M401.7 146.6L401.2 145.8L401.6 145.3L402.6 145.4L403.5 145.2L404.5 145L404.9 144.7L405.3 145.3L404.2 146.1L403.7 146.9L402.8 146.7L401.7 146.9L401.7 146.6L401.6 146.7Z" fill="#f9a58f" stroke="#404545" stroke-width="0.6" stroke-linejoin="round"/><path d="M400.1 138.6L400.9 138.4L401.8 138.1L402.7 138.1L403.4 138.4L404.2 138.7L404.5 139.4L405.3 139.3L406.1 139.2L407.3 139.9L407.7 140.5L407 141L406.3 141.5L405.5 141.9L404.2 141.6L402.9 141.4L402.2 141.5L401.4 141.6L400.4 140.8L399.7 140.2L399.1 139.2Z" fill="#f26a50" stroke="#404545" stroke-width="0.6" stroke-linejoin="round"/><path d="M406.3 141.5L407 141L407.7 140.5L408.5 140.3L409.8 140.7L410.7 140.7L411.7 140.7L412.5 141.1L412.1 142.2L411.3 142.2L410.6 142.1L409.8 142.3L409 142.6L407.9 143.2L406.9 143L405.8 142.9L405.4 142.2L405.5 141.9Z" fill="#f7896e" stroke="#404545" stroke-width="0.6" stroke-linejoin="round"/><path d="M405 143.4L405.8 142.9L406.9 143L407.9 143.2L409 142.6L409.8 142.3L410.6 142.1L411.3 142.2L412.1 142.2L413.1 142.9L412.4 143.7L411.7 144.5L411 145.7L410.1 145.9L409.2 145.8L408.2 146.2L407.4 146.2L406.6 146.2L405.3 145.3L404.9 144.7L404.6 144.5Z" fill="#f7896e" stroke="#404545" stroke-width="0.6" stroke-linejoin="round"/><path d="M411 145.7L411.7 144.5L412.4 143.7L413.1 142.9L414.1 142.9L415.1 143L415.9 143L416.8 143L417.7 142.6L419 143.7L419.6 144.6L420.2 145.4L420.4 146.9L421.3 147.2L422.4 147.4L421.5 148.3L421.2 149L421.1 149.7L420.1 149.4L419.1 149.1L418.2 149.5L417.3 149.9L415.9 149.7L414.6 149.5L413.9 149.4L413.2 149.3L413.4 148.3L412.6 148.2L411.7 148L410.9 147L410.1 145.9Z" fill="#f7896e" stroke="#404545" stroke-width="0.6" stroke-linejoin="round"/><path d="M414.6 149.5L415.9 149.7L417.3 149.9L418.2 149.5L419.1 149.1L420.1 149.4L421.1 149.7L421.1 150.1L420.5 150.6L420.1 151.7L420.9 152.5L419.9 152.6L418.9 152.7L418.5 153.6L417.4 153.4L416.3 153.2L415.4 153.4L414.4 153.6L414.2 153.2L413.4 152L413.9 150.6L413.2 149.3L413.9 149.4Z" fill="#f7896e" stroke="#404545" stroke-width="0.6" stroke-linejoin="round"/><path d="M443.5 153.7L444.4 154.3L444.6 155.4L446 156.6L446.2 157.5L444.8 156.4L443.7 156.2L442.8 155.6L441.9 154.9L441.5 154L442.5 153.8Z" fill="#f9a58f" stroke="#404545" stroke-width="0.6" stroke-linejoin="round"/><path d="M449.8 169.8L449.2 168.2L448.2 167.7L447.2 167.2L446.1 165.7L446.3 164.8L446.5 163.9L445.5 162.3L445 161.3L444.4 160.3L443.9 159.4L443.4 158.5L443.3 157.6L443.2 156.7L443.7 156.2L445 157.5L446.2 157.5L447.2 157.5L448.2 157.4L448.7 158L449.6 158.4L449.8 158.5L450.6 159.8L451.4 160.2L452.5 160.6L453.6 161L454.7 161L455.8 161L456.9 161L456.6 160.2L457.5 159.6L458.4 159L459.7 159L461 159L462.3 159.4L463.7 159.8L464.7 160.6L465.6 161.3L466.7 161.3L466.9 162.4L467 163.6L467.2 164.7L466.8 166L467.2 167.2L467.6 168.4L468 169.6L469.3 170L468.9 171.2L468.4 172.4L469.6 172.7L470.8 173.1L472 173.9L471.9 175.3L471.7 176.7L472.4 177.5L471.5 178.3L470.7 179.1L470.5 179.9L469.1 179.8L467.8 179.6L466.5 179.4L465.3 179.3L465 179L464.5 178L464.1 177L462.7 176.7L461.5 177.2L460.3 177.6L458.8 177.1L457.3 176.3L455.8 175.5L455.2 174.6L454.6 173.8L454.1 172.9L453.5 171.9L452.4 172L451.2 172.1L450.5 170.9Z" fill="#f7896e" stroke="#404545" stroke-width="0.6" stroke-linejoin="round"/><path d="M470.7 179.1L471.5 178.3L472.4 177.5L471.7 176.7L471.9 175.3L472 173.9L470.8 173.1L469.6 172.7L468.4 172.4L469.5 172.5L470.6 172.6L471.7 172.8L472.8 172.9L473.9 172.7L474.9 172.5L475.9 172.2L475.9 171.1L475.9 170L477.1 169.6L478.3 169.3L479.4 169L479.6 167.5L479.7 166L480.4 165.7L481.1 165.4L481.1 164.4L481.2 163.4L481.9 162.2L482.6 161L483.6 160.8L484.7 160.6L485.6 160.9L486.6 161.1L487.8 162.1L489.1 163.1L488.4 164.1L487.3 164.6L486.3 164.4L485.2 164.2L485 165.9L486.4 167.5L487.7 168.3L487.4 169.4L487 170.4L486.3 171.7L485.7 173L485 174.3L484.3 175.5L483.2 175.4L482.1 175.3L481.3 177L482.2 178L483 179.1L483.5 180L484 180.9L482.9 181.1L481.8 181.2L480.8 181.4L480.1 182.4L480 182.4L479 182L478.1 180.6L477.3 179.6L476 179.8L474.7 179.9L473.6 180L472.6 180L471.5 180.1L470.5 179.9Z" fill="#f7896e" stroke="#404545" stroke-width="0.6" stroke-linejoin="round"/><path d="M480.8 181.4L481.8 181.2L482.9 181.1L484 180.9L483.5 180L483 179.1L482.2 178L481.3 177L482.1 175.3L483.2 175.4L484.3 175.5L485 174.3L485.7 173L486.3 171.7L487 170.4L487.4 169.4L487.7 168.3L486.4 167.5L485 165.9L485.2 164.2L486.3 164.4L487.3 164.6L488.4 164.1L489.1 163.1L490.4 164.1L491.7 165L492.4 166.1L493 167.2L492.3 168L492.6 169.1L492.9 170.1L494.4 170.8L495.3 171.3L496.2 171.7L495.8 172.9L495.4 174L496.9 174.9L498.4 175.8L499.9 176.1L501.3 176.3L502.5 176.9L503.6 177.5L504.7 177.7L505.8 178L506.6 178L507.5 178L507.2 176.7L506.9 175.5L507.8 175.2L508.2 176.5L509.6 177.5L510.7 177.4L511.7 177.3L512.8 177.1L511.9 175.7L513 175.5L513.9 174.7L514.7 173.9L515.6 173.7L516.6 173.5L517.4 173.1L518.5 174L519.6 175L519.4 176L518.7 176.9L518.1 177.8L517.3 178.6L516.8 179.9L516.7 181.1L516.6 182.2L515.3 181.9L515.5 183.3L515.6 184.7L514.8 185.1L514.4 183.8L514 182.4L513.2 183.7L512.5 182.5L513.7 181.4L513.8 180.2L512.6 180.1L511.5 180L510.4 179.9L509.8 178.6L508.9 178.3L507.9 178L507.5 178.9L507.9 180.1L508.3 181.2L508.8 182.2L509.3 183.2L509.6 184.4L510 185.6L509.8 185.6L508.4 185.6L507 186L506.4 187.4L505.7 188.7L504.9 189.6L504.1 190.4L503.3 191.3L502.6 192.2L502 193.1L501.3 194L500.5 194.6L499.6 195.3L498.6 196.3L498.7 197.4L498.9 198.5L499 199.7L498.7 200.7L498.5 201.7L498.6 203L498.7 204.3L497.6 205.9L496.5 206.7L495.6 207.9L494.2 206.6L493.9 205.7L493.6 204.8L493.2 203.8L492.8 202.7L492 201.4L491.2 200L490.8 198.7L490.3 197.4L489.4 195.8L488.9 194.5L488.4 193.3L488 191.7L487.5 190.1L487.3 188.9L487.1 187.8L486.9 186.6L486.7 185.7L486.5 184.8L485.9 186.3L484.5 187.1L483.5 186.5L482.4 185.8L481.4 184.7L482.1 184.2L482.7 183.7L481.3 183.8L480.5 182.5L480 182.4L480.1 182.4ZM498.9 206.2L498.8 205.1L499.4 205.1L499.5 205.2Z" fill="#ef4a36" stroke="#404545" stroke-width="0.6" stroke-linejoin="round"/><path d="M535.9 185.8L534.4 184.8L534.5 183.8L533.5 183.4L532.4 183L531.6 183.4L530.7 183.8L529.4 184.2L528.3 184.5L527.7 184.3L527 185.5L525.6 185.2L524.1 185L524.4 183.7L523 182.9L521.7 182L521.3 180.6L521.8 179.7L522.3 178.8L521.7 177.4L521.1 176L519.6 175L518.5 174L517.4 173.1L516.6 173.5L515.6 173.7L514.7 173.9L513.9 174.7L513 175.5L511.9 175.7L510.8 175.5L509.8 175.2L508.7 175L507.8 175.2L506.9 175.5L505.9 175.5L504.9 175.5L503.9 175.5L502.6 174.8L501.3 174.1L500 173.4L498.8 172.5L497.7 171.6L496.9 171.7L496.2 171.7L495.3 171.3L494.4 170.8L492.9 170.1L492.6 169.1L492.3 168L493 167.2L492.4 166.1L491.7 165L490.4 164.1L489.1 163.1L487.8 162.1L486.6 161.1L485.6 160.9L484.7 160.6L484.9 160L483.6 158.4L482.3 156.9L482.4 156.4L482.9 155.6L483.5 154.8L484.7 154.5L485.9 154.1L486.7 153.7L487.6 153.3L488.4 152.8L489.5 152.4L488.9 150.8L488.2 149.2L487.5 147.7L488.5 147.5L489.6 147.3L490.6 147L490.3 145.6L489.9 144.2L491.1 144.2L492.3 144.3L493.5 144.3L493.6 143.2L493.8 142.1L494 141L494.6 141L495.4 141.8L496.9 142.4L498.5 143L500.3 144.5L500.5 145.6L501.1 146.5L501.6 147.4L502.9 147.5L504.3 147.7L505.5 148.1L506.7 148.5L507.9 149L509.1 150.2L510.4 151.4L511.6 151.4L512.7 151.5L513.9 151.5L515.1 151.5L516.2 151.5L517.5 151.9L518.7 152.2L520 152.5L521.3 152.8L522.5 153.2L523.4 152.7L524.3 152.3L525.2 151.9L526.2 151.8L527.3 151.7L528.3 151.5L529.1 150.7L529.8 149.9L528.2 148.8L528.8 147.5L529.8 147.4L530.8 147.2L531.8 147L532.6 146.8L533.4 146.6L533.9 145.8L534.4 145.1L535.4 145.1L536.5 145.1L537 144.5L535.8 144.1L534.6 143.6L533.4 143.2L532.4 143L531.3 142.9L530.8 141.4L530.3 139.9L531.3 140.2L532.2 140.5L532.8 140L533.4 139.6L533.3 138.6L533.2 137.7L533.2 136.4L533.1 135.2L534 134.7L534.8 134.2L536.1 134.6L537.3 134.9L538.6 135.3L540.3 136.8L542.1 138.2L543.7 139.7L545.3 140.2L546.9 140.7L548 141.1L549 141.5L549.8 142.4L550.7 143.4L551.7 143.1L552.8 142.8L553.8 142.6L554.7 142.4L555.3 143.7L555.8 145.3L556.2 146.9L556.1 147.5L555.2 147.4L554.3 147.2L553.6 147.8L554.5 149L555.5 150.3L555.7 151.1L555.5 151.9L555.8 152L554.3 151.9L553.5 152.2L552.6 152.5L551.9 152.7L551.2 152.8L550.8 153.8L550.3 154.8L549.9 155.4L549.4 155.9L548.7 156.2L548 156.4L547.3 157L546.7 157.5L545.9 156.2L546 154.6L545.1 154.5L544.3 154.5L543.8 155.2L543.2 155.9L542.7 156.5L542.3 157.1L541.4 157.4L542.4 158.7L543.9 159.5L545.2 160.5L545.8 159.9L546.4 159.3L547.4 159.8L548.2 159.9L549 160L549.1 160.1L548.6 160.5L548.1 161L547.5 161.6L547 162.2L546.8 163.3L546.7 164.4L548.2 165.2L549.2 166.5L550.1 167.8L552 169.3L552.4 170.4L551.4 171.1L553.1 172.2L553.2 173.5L553.2 174.7L552.5 175.5L552 177.1L551.6 178.6L551.2 179.8L550.7 180.9L550.1 181.1L549.3 182L548.5 182.9L547.7 183.5L547 184L546.1 184.4L545.3 184.8L544.3 184.8L543.3 185.1L542.3 185.5L541.3 186L540.3 186.5L540.2 187.9L539.7 186.9L539.1 186L538.3 186L537.5 186L536.7 186ZM539.6 191.2L538.2 189.7L538.8 188.4L539.6 188.3L540.4 188.3L541.5 188.9L541 190.5L539.8 191.3Z" fill="#a50f15" stroke="#404545" stroke-width="0.6" stroke-linejoin="round"/><path d="M446 143.8L444.9 143.4L443.8 142.9L442.9 142.2L443.2 141L442.6 139.7L443.4 139.2L444.1 138.8L444.8 138.8L445.5 138.2L446.2 137.7L446.9 137.2L447.8 137.1L448.7 137L450 137.4L451.2 137.9L452.5 138.3L453.3 138.1L454.2 138L455.3 138.3L456.3 138.6L457.4 138.8L458.4 138.9L459.4 138.7L460.4 138.4L460.5 137.7L459.3 137.1L458.1 136.6L458.8 135.2L458.6 133.6L459.4 133.1L460.2 132.5L461.3 132.5L462.4 132.5L463.5 132.5L464.3 132.2L465.2 131.9L466 131.6L466.9 131.3L468.1 131.9L469.3 132.6L470.5 133.3L471.5 133.6L472.5 133.9L473.6 134.2L474.7 134.1L475.5 133.9L476.2 133.6L477 133.4L478.1 134L479.2 134.5L480.7 135.8L482.2 137.1L483.7 138.4L484.6 138.4L485.5 138.4L486.6 138.3L487.7 138.1L489.1 138.9L490.5 139.7L491.7 139.9L492.9 140L494 141L493.8 142.1L493.6 143.2L493.5 144.3L492.3 144.3L491.1 144.2L489.9 144.2L490.3 145.6L490.6 147L489.6 147.3L488.5 147.5L487.5 147.7L488.2 149.2L488.9 150.8L489.5 152.4L487.8 151.2L486.7 151.1L485.6 151.1L484.6 151L483.5 150.9L482.1 150.7L480.8 150.6L479.6 151.1L478.5 151.5L477.3 152L477 153.1L476.6 154.1L475.7 154.4L474.8 154.6L473.6 153.8L472.7 153.2L471.8 152.7L470.9 152.5L470.4 151.1L470 149.6L469.1 149.8L468.1 149.9L467.1 150L466 150L464.9 150.1L463.5 149.3L462.2 148.4L460.8 147.6L459.4 146.7L458.4 147L457.4 147.4L456.4 147.7L456.8 149.2L457.2 150.7L457.6 152.2L458 153.7L457.2 153.8L455.7 152.2L454.7 152.3L453.7 152.4L453.5 152.9L453 151.7L452.2 151.2L451.4 150.6L450.6 149.7L449.8 148.8L450.6 148.5L451.5 147.8L452.4 147.2L452.2 146.2L451.9 145.3L451.1 144.8L450.3 144.3L449.2 144.6L448.1 145L447.1 145.3L446.9 145.4Z" fill="#fde3d8" stroke="#404545" stroke-width="0.6" stroke-linejoin="round"/><path d="M553.6 159.5L554.3 159.2L555 158.5L555.8 158.1L556.4 158.5L558.2 160.2L558.8 161.2L559.4 162.3L559.5 163.7L558.7 164.1L557.8 164.6L557.1 164.6L556.4 164.7L555.9 163.5L555.4 162.3L555 161.1L554.5 159.9L553.5 159.5ZM563.7 167.2L562.9 167.2L562.1 167.2L561.8 166.4L562.9 165.7Z" fill="#c4171c" stroke="#404545" stroke-width="0.6" stroke-linejoin="round"/><path d="M564.7 166.7L564.9 167.7L565 168.8L564.9 170.4L563.7 170L563.3 168.9L562.8 167.8L562.2 167.5L561.8 166.4L562.9 165.7ZM566.6 167.7L565.3 166.8L565.7 165.5L566.7 165.4L567.8 165.2L568.2 165.9L567.9 166.8L567.2 167.2ZM570.5 156.2L569.5 154.8L569.6 153.8L570.2 153.7L570.8 153.5L571.8 154.9L573.4 156.4L573.6 157.5L573.8 158.5L573.2 158.6L573.7 159.6L574.1 160.6L574.6 161.7L575.1 162.8L574.7 163.4L574.3 164.1L573 163.6L573.2 164.6L572 164.6L570.7 164.6L570.8 165L570.4 165.7L569.9 166.4L568.4 165L568.3 164.6L566.8 164.4L566.1 164.6L565.4 164.9L564.7 165L563.7 165.5L562.8 165.5L563.5 164.5L564.1 163.4L564.6 163.1L565.9 163L567.3 162.9L568.4 163.1L568.5 162L568.6 161L568.7 160.3L569.7 160.3L570.7 160.3L571.1 159.2L570.8 157.7ZM574.5 150.3L573.8 150.6L573.1 150.9L572.9 151.8L572.7 152.7L571.8 152.7L570.9 152.8L570.1 152.8L569.4 153.1L568.8 153.3L568.5 152L567.5 151.5L568.2 150.6L568.2 149.6L567.7 148.6L567.2 147.7L567.1 146.9L568.8 147.8L570.4 148.8L571.6 148.8L572.8 148.8Z" fill="#ae1018" stroke="#404545" stroke-width="0.6" stroke-linejoin="round"/><path d="M555.2 180.1L555.3 181.4L555.3 182.7L554.9 183.9L554.5 185.1L553.4 183.5L553.3 182.2L553.9 181L554.5 179.8Z" fill="#ef4a36" stroke="#404545" stroke-width="0.6" stroke-linejoin="round"/><path d="M462.7 180.4L462.4 181.9L461.8 183.4L462.2 184.2L462.6 185.1L461.9 184L460.8 183.9L459.6 183.8L458.5 183.6L457.3 183.5L457 182.5L456.6 181.5L456.6 181.4L457.9 181.6L459.2 181.3L460.5 181.1L461.6 179.8L462.5 178.9L462.7 178.5L463 178.7L463.1 179.6L463.2 180.4ZM456.3 180.2L456.5 180.2L456.5 180.8Z" fill="#f7896e" stroke="#404545" stroke-width="0.6" stroke-linejoin="round"/></svg>
<div class="t" id="src">Source: Global Nuclear Power Tracker, Global Energy Monitor, December 2023 Release<br>Boston University Institute for Global Sustainability | visualizingenergy.org | CC BY 4.0</div>
<div class="t" id="logo">visualizing<b>Energy</b></div>
</body></html>
